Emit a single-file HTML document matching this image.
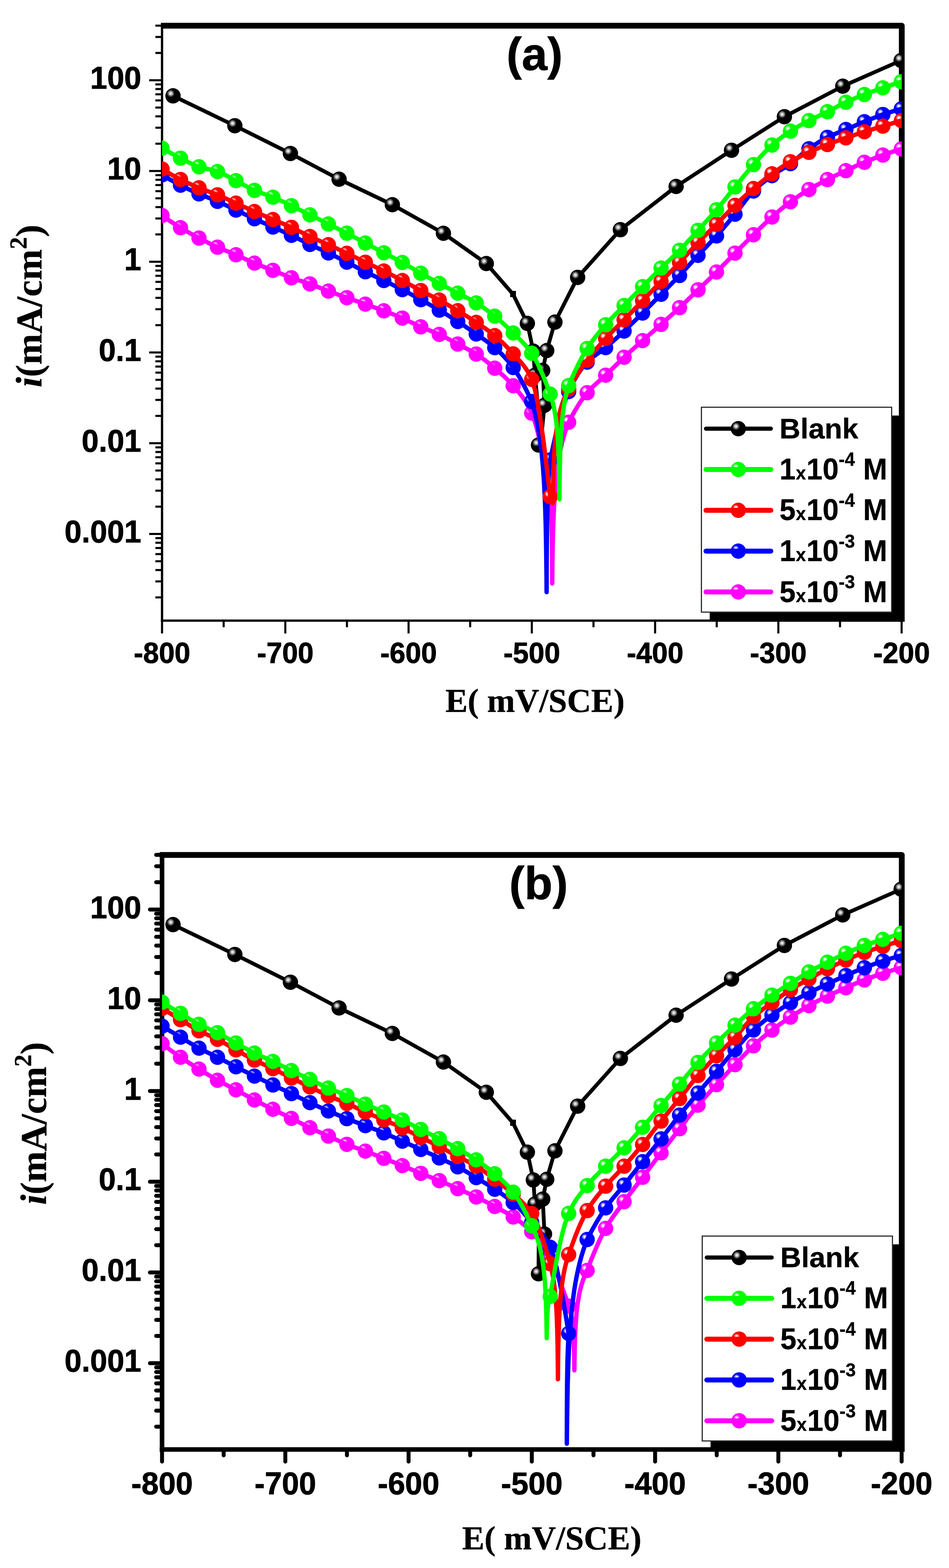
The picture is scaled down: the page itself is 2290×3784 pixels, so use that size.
<!DOCTYPE html>
<html lang="en"><head><meta charset="utf-8"><title>Polarization curves</title>
<style>
html,body{margin:0;padding:0;background:#fff}
body{width:2290px;height:3784px;overflow:hidden}
svg{display:block;filter:blur(0.5px)}
.sb{font-family:"Liberation Sans",sans-serif;font-weight:bold;fill:#000;stroke:#000;stroke-width:1.1px;stroke-linejoin:round}
.sl{stroke-width:0.5px}
.tb{font-family:"Liberation Serif",serif;font-weight:bold;fill:#000;stroke:#000;stroke-width:0.6px;stroke-linejoin:round}
</style></head><body>
<svg width="2290" height="3784" viewBox="0 0 2290 3784">
<defs><clipPath id="clip"><rect x="391" y="62" width="1785" height="1435.8"/></clipPath><radialGradient id="gk" gradientUnits="userSpaceOnUse" cx="-5.5" cy="-5.8" r="9.5"><stop offset="0" stop-color="#f4f4f4"/><stop offset="0.3" stop-color="#d4d4d4"/><stop offset="0.7" stop-color="#555"/><stop offset="1" stop-color="#000"/></radialGradient><g id="mk"><circle r="18.5" fill="#000"/><circle cx="-5.5" cy="-5.8" r="9.5" fill="url(#gk)"/></g><radialGradient id="gg" gradientUnits="userSpaceOnUse" cx="-6" cy="-6.5" r="7.5"><stop offset="0" stop-color="#fff"/><stop offset="0.35" stop-color="#fff" stop-opacity="0.85"/><stop offset="1" stop-color="#fff" stop-opacity="0"/></radialGradient><g id="mg"><circle r="18.5" fill="#00ff00"/><circle cx="-6" cy="-6.5" r="7.5" fill="url(#gg)"/></g><radialGradient id="gr" gradientUnits="userSpaceOnUse" cx="-6" cy="-6.5" r="7.5"><stop offset="0" stop-color="#fff"/><stop offset="0.35" stop-color="#fff" stop-opacity="0.85"/><stop offset="1" stop-color="#fff" stop-opacity="0"/></radialGradient><g id="mr"><circle r="18.5" fill="#ff0000"/><circle cx="-6" cy="-6.5" r="7.5" fill="url(#gr)"/></g><radialGradient id="gb" gradientUnits="userSpaceOnUse" cx="-6" cy="-6.5" r="7.5"><stop offset="0" stop-color="#fff"/><stop offset="0.35" stop-color="#fff" stop-opacity="0.85"/><stop offset="1" stop-color="#fff" stop-opacity="0"/></radialGradient><g id="mb"><circle r="18.5" fill="#0000ff"/><circle cx="-6" cy="-6.5" r="7.5" fill="url(#gb)"/></g><radialGradient id="gm" gradientUnits="userSpaceOnUse" cx="-6" cy="-6.5" r="7.5"><stop offset="0" stop-color="#fff"/><stop offset="0.35" stop-color="#fff" stop-opacity="0.85"/><stop offset="1" stop-color="#fff" stop-opacity="0"/></radialGradient><g id="mm"><circle r="18.5" fill="#ff00ff"/><circle cx="-6" cy="-6.5" r="7.5" fill="url(#gm)"/></g></defs>
<rect width="2290" height="3784" fill="#fff"/>
<g transform="translate(0 0)">
<g stroke="#000" fill="none" stroke-linecap="butt">
<line x1="375" y1="1441.7" x2="391" y2="1441.7" stroke-width="5"/>
<line x1="375" y1="1403.1" x2="391" y2="1403.1" stroke-width="5"/>
<line x1="375" y1="1375.7" x2="391" y2="1375.7" stroke-width="5"/>
<line x1="375" y1="1354.5" x2="391" y2="1354.5" stroke-width="5"/>
<line x1="375" y1="1337.2" x2="391" y2="1337.2" stroke-width="5"/>
<line x1="375" y1="1322.5" x2="391" y2="1322.5" stroke-width="5"/>
<line x1="375" y1="1309.8" x2="391" y2="1309.8" stroke-width="5"/>
<line x1="375" y1="1298.6" x2="391" y2="1298.6" stroke-width="5"/>
<line x1="360" y1="1288.6" x2="391" y2="1288.6" stroke-width="5"/>
<line x1="375" y1="1222.7" x2="391" y2="1222.7" stroke-width="5"/>
<line x1="375" y1="1184.1" x2="391" y2="1184.1" stroke-width="5"/>
<line x1="375" y1="1156.8" x2="391" y2="1156.8" stroke-width="5"/>
<line x1="375" y1="1135.5" x2="391" y2="1135.5" stroke-width="5"/>
<line x1="375" y1="1118.2" x2="391" y2="1118.2" stroke-width="5"/>
<line x1="375" y1="1103.5" x2="391" y2="1103.5" stroke-width="5"/>
<line x1="375" y1="1090.8" x2="391" y2="1090.8" stroke-width="5"/>
<line x1="375" y1="1079.6" x2="391" y2="1079.6" stroke-width="5"/>
<line x1="360" y1="1069.6" x2="391" y2="1069.6" stroke-width="5"/>
<line x1="375" y1="1003.7" x2="391" y2="1003.7" stroke-width="5"/>
<line x1="375" y1="965.1" x2="391" y2="965.1" stroke-width="5"/>
<line x1="375" y1="937.8" x2="391" y2="937.8" stroke-width="5"/>
<line x1="375" y1="916.6" x2="391" y2="916.6" stroke-width="5"/>
<line x1="375" y1="899.2" x2="391" y2="899.2" stroke-width="5"/>
<line x1="375" y1="884.6" x2="391" y2="884.6" stroke-width="5"/>
<line x1="375" y1="871.9" x2="391" y2="871.9" stroke-width="5"/>
<line x1="375" y1="860.7" x2="391" y2="860.7" stroke-width="5"/>
<line x1="360" y1="850.6" x2="391" y2="850.6" stroke-width="5"/>
<line x1="375" y1="784.7" x2="391" y2="784.7" stroke-width="5"/>
<line x1="375" y1="746.2" x2="391" y2="746.2" stroke-width="5"/>
<line x1="375" y1="718.8" x2="391" y2="718.8" stroke-width="5"/>
<line x1="375" y1="697.6" x2="391" y2="697.6" stroke-width="5"/>
<line x1="375" y1="680.2" x2="391" y2="680.2" stroke-width="5"/>
<line x1="375" y1="665.6" x2="391" y2="665.6" stroke-width="5"/>
<line x1="375" y1="652.9" x2="391" y2="652.9" stroke-width="5"/>
<line x1="375" y1="641.7" x2="391" y2="641.7" stroke-width="5"/>
<line x1="360" y1="631.7" x2="391" y2="631.7" stroke-width="5"/>
<line x1="375" y1="565.7" x2="391" y2="565.7" stroke-width="5"/>
<line x1="375" y1="527.2" x2="391" y2="527.2" stroke-width="5"/>
<line x1="375" y1="499.8" x2="391" y2="499.8" stroke-width="5"/>
<line x1="375" y1="478.6" x2="391" y2="478.6" stroke-width="5"/>
<line x1="375" y1="461.3" x2="391" y2="461.3" stroke-width="5"/>
<line x1="375" y1="446.6" x2="391" y2="446.6" stroke-width="5"/>
<line x1="375" y1="433.9" x2="391" y2="433.9" stroke-width="5"/>
<line x1="375" y1="422.7" x2="391" y2="422.7" stroke-width="5"/>
<line x1="360" y1="412.7" x2="391" y2="412.7" stroke-width="5"/>
<line x1="375" y1="346.8" x2="391" y2="346.8" stroke-width="5"/>
<line x1="375" y1="308.2" x2="391" y2="308.2" stroke-width="5"/>
<line x1="375" y1="280.8" x2="391" y2="280.8" stroke-width="5"/>
<line x1="375" y1="259.6" x2="391" y2="259.6" stroke-width="5"/>
<line x1="375" y1="242.3" x2="391" y2="242.3" stroke-width="5"/>
<line x1="375" y1="227.6" x2="391" y2="227.6" stroke-width="5"/>
<line x1="375" y1="214.9" x2="391" y2="214.9" stroke-width="5"/>
<line x1="375" y1="203.7" x2="391" y2="203.7" stroke-width="5"/>
<line x1="360" y1="193.7" x2="391" y2="193.7" stroke-width="5"/>
<line x1="375" y1="127.8" x2="391" y2="127.8" stroke-width="5"/>
<line x1="375" y1="89.2" x2="391" y2="89.2" stroke-width="5"/>
<line x1="375" y1="61.9" x2="391" y2="61.9" stroke-width="5"/>
<line x1="391" y1="1497.7" x2="391" y2="1528.7" stroke-width="5"/>
<line x1="539.7" y1="1497.7" x2="539.7" y2="1513.7" stroke-width="5"/>
<line x1="688.5" y1="1497.7" x2="688.5" y2="1528.7" stroke-width="5"/>
<line x1="837.2" y1="1497.7" x2="837.2" y2="1513.7" stroke-width="5"/>
<line x1="985.9" y1="1497.7" x2="985.9" y2="1528.7" stroke-width="5"/>
<line x1="1134.6" y1="1497.7" x2="1134.6" y2="1513.7" stroke-width="5"/>
<line x1="1283.3" y1="1497.7" x2="1283.3" y2="1528.7" stroke-width="5"/>
<line x1="1432.1" y1="1497.7" x2="1432.1" y2="1513.7" stroke-width="5"/>
<line x1="1580.8" y1="1497.7" x2="1580.8" y2="1528.7" stroke-width="5"/>
<line x1="1729.5" y1="1497.7" x2="1729.5" y2="1513.7" stroke-width="5"/>
<line x1="1878.2" y1="1497.7" x2="1878.2" y2="1528.7" stroke-width="5"/>
<line x1="2027" y1="1497.7" x2="2027" y2="1513.7" stroke-width="5"/>
<line x1="2175.7" y1="1497.7" x2="2175.7" y2="1528.7" stroke-width="5"/>
</g>
<g stroke="#000" fill="none" stroke-linecap="butt">
<line x1="391" y1="62" x2="391" y2="1500.5" stroke-width="5.5"/>
<line x1="388.2" y1="1497.7" x2="2176" y2="1497.7" stroke-width="5.5"/>
<path d="M388.2 62 H2176 V1500.5" stroke-width="14" stroke-linejoin="round"/>
</g>
<g transform="translate(0 0)"><g clip-path="url(#clip)" fill="none" stroke-linejoin="round" stroke-linecap="round">
<path d="M417.5 231.3 L566.7 303.4 L700.8 370.4 L818.2 432.5 L946.8 494 L1070 563 L1173.5 636 L1238 710 L1272.6 780.5 L1287 847.6 L1290.9 905.5 L1300 1000 L1299.4 1074 L1303 1085 L1314 978 L1309.6 893.8 L1319.3 846 L1339.1 777.3 L1393.9 669.4 L1497 554.3 L1631.5 450 L1765.2 362.7 L1892.8 281.7 L2033.6 208 L2174.5 146" stroke="#000" stroke-width="9.2"/>
<use href="#mk" x="417.5" y="231.3"/>
<use href="#mk" x="566.7" y="303.4"/>
<use href="#mk" x="700.8" y="370.4"/>
<use href="#mk" x="818.2" y="432.5"/>
<use href="#mk" x="946.8" y="494"/>
<use href="#mk" x="1070" y="563"/>
<use href="#mk" x="1173.5" y="636"/>
<rect x="1231" y="702" width="14" height="15" fill="#000" stroke="none"/>
<use href="#mk" x="1272.6" y="780.5"/>
<use href="#mk" x="1287" y="847.6"/>
<use href="#mk" x="1290.9" y="905.5"/>
<use href="#mk" x="1299.4" y="1074"/>
<use href="#mk" x="1314" y="978"/>
<use href="#mk" x="1309.6" y="893.8"/>
<use href="#mk" x="1319.3" y="846"/>
<use href="#mk" x="1339.1" y="777.3"/>
<use href="#mk" x="1393.9" y="669.4"/>
<use href="#mk" x="1497" y="554.3"/>
<use href="#mk" x="1631.5" y="450"/>
<use href="#mk" x="1765.2" y="362.7"/>
<use href="#mk" x="1892.8" y="281.7"/>
<use href="#mk" x="2033.6" y="208"/>
<use href="#mk" x="2174.5" y="146"/>
<use href="#mm" x="391" y="520"/>
<use href="#mm" x="435.6" y="549.5"/>
<use href="#mm" x="480.2" y="574.6"/>
<use href="#mm" x="524.8" y="596.6"/>
<use href="#mm" x="569.4" y="614.8"/>
<use href="#mm" x="614" y="635"/>
<use href="#mm" x="658.6" y="652.4"/>
<use href="#mm" x="703.2" y="670.4"/>
<use href="#mm" x="747.8" y="685.2"/>
<use href="#mm" x="792.4" y="702.5"/>
<use href="#mm" x="837" y="718.4"/>
<use href="#mm" x="881.6" y="734"/>
<use href="#mm" x="926.2" y="750.1"/>
<use href="#mm" x="970.8" y="767.7"/>
<use href="#mm" x="1015.4" y="788.8"/>
<use href="#mm" x="1060" y="807"/>
<use href="#mm" x="1104.6" y="830.3"/>
<use href="#mm" x="1149.2" y="854.4"/>
<use href="#mm" x="1193.8" y="888.6"/>
<use href="#mm" x="1238.4" y="931"/>
<use href="#mm" x="1283" y="997"/>
<use href="#mm" x="1327.6" y="1195"/>
<use href="#mm" x="1372.2" y="1019"/>
<use href="#mm" x="1416.8" y="947.8"/>
<use href="#mm" x="1461.4" y="905.5"/>
<use href="#mm" x="1506" y="862.2"/>
<use href="#mm" x="1550.6" y="822"/>
<use href="#mm" x="1595.2" y="782.8"/>
<use href="#mm" x="1639.8" y="742.4"/>
<use href="#mm" x="1684.4" y="699.4"/>
<use href="#mm" x="1729" y="656.5"/>
<use href="#mm" x="1773.6" y="610.9"/>
<use href="#mm" x="1818.2" y="566.6"/>
<use href="#mm" x="1862.8" y="523.7"/>
<use href="#mm" x="1907.4" y="487"/>
<use href="#mm" x="1952" y="457.4"/>
<use href="#mm" x="1996.6" y="433.3"/>
<use href="#mm" x="2041.2" y="411.8"/>
<use href="#mm" x="2085.8" y="391.7"/>
<use href="#mm" x="2130.4" y="374.3"/>
<use href="#mm" x="2175" y="359.5"/>
<path d="M391 520 L397 524.2 L403 528.4 L409 532.5 L415 536.5 L421 540.4 L427 544.2 L433 547.9 L439 551.6 L445 555.1 L451 558.6 L457 562 L463 565.4 L469 568.7 L475.1 571.9 L481.1 575.1 L487.1 578.2 L493.1 581.3 L499.1 584.3 L505.1 587.3 L511.1 590.2 L517.1 593.1 L523.1 595.8 L529.1 598.5 L535.1 601 L541.1 603.4 L547.1 605.8 L553.1 608.2 L559.1 610.5 L565.1 613 L571.1 615.5 L577.1 618.2 L583.1 621 L589.1 623.8 L595.1 626.6 L601.1 629.3 L607.1 632 L613.1 634.6 L619.1 637.1 L625.1 639.5 L631.2 641.9 L637.2 644.2 L643.2 646.4 L649.2 648.7 L655.2 651 L661.2 653.4 L667.2 655.9 L673.2 658.4 L679.2 660.9 L685.2 663.4 L691.2 665.8 L697.2 668.1 L703.2 670.4 L709.2 672.5 L715.2 674.5 L721.2 676.5 L727.2 678.4 L733.2 680.3 L739.2 682.3 L745.2 684.3 L751.2 686.4 L757.2 688.7 L763.2 691 L769.2 693.4 L775.2 695.8 L781.2 698.2 L787.3 700.6 L793.3 702.8 L799.3 705 L805.3 707.2 L811.3 709.3 L817.3 711.5 L823.3 713.6 L829.3 715.7 L835.3 717.8 L841.3 719.9 L847.3 722 L853.3 724.1 L859.3 726.2 L865.3 728.3 L871.3 730.4 L877.3 732.5 L883.3 734.6 L889.3 736.7 L895.3 738.9 L901.3 741 L907.3 743.2 L913.3 745.3 L919.3 747.5 L925.3 749.8 L931.3 752 L937.3 754.3 L943.4 756.6 L949.4 758.9 L955.4 761.3 L961.4 763.7 L967.4 766.2 L973.4 768.8 L979.4 771.6 L985.4 774.4 L991.4 777.4 L997.4 780.3 L1003.4 783.2 L1009.4 786.1 L1015.4 788.8 L1021.4 791.4 L1027.4 793.8 L1033.4 796.1 L1039.4 798.5 L1045.4 800.8 L1051.4 803.3 L1057.4 805.8 L1063.4 808.6 L1069.4 811.5 L1075.4 814.6 L1081.4 817.8 L1087.4 821 L1093.4 824.3 L1099.5 827.5 L1105.5 830.8 L1111.5 833.9 L1117.5 836.9 L1123.5 840 L1129.5 843.1 L1135.5 846.3 L1141.5 849.7 L1147.5 853.3 L1153.5 857.2 L1159.5 861.3 L1165.5 865.7 L1171.5 870.3 L1177.5 875.1 L1183.5 880 L1189.5 885 L1195.5 890.1 L1201.5 895.2 L1207.5 900.4 L1213.5 905.7 L1219.5 911.3 L1225.5 917.2 L1231.5 923.4 L1237.5 930 L1243.5 936.9 L1249.5 943.9 L1255.6 951.3 L1261.6 959.3 L1267.6 968.1 L1273.6 978.2 L1279.6 989.7 L1285.6 1003.1 L1291.6 1020.7 L1297.6 1042.3 L1303.6 1067.6 L1309.6 1095.9 L1315.6 1127 L1321.6 1160.1 L1327.6 1195 L1328 1199.5 L1328.4 1204.3 L1328.7 1209.2 L1329.1 1214.4 L1329.4 1219.8 L1329.7 1225.5 L1330 1231.5 L1330.3 1237.8 L1330.6 1244.5 L1330.8 1251.6 L1331.1 1259.2 L1331.3 1267.3 L1331.5 1276 L1331.6 1285.4 L1331.8 1295.5 L1332 1306.6 L1332.1 1318.6 L1332.2 1331.7 L1332.3 1345.9 L1332.4 1361.2 L1332.4 1377 L1332.5 1392.1 L1332.5 1403.6 L1332.5 1408 L1332.6 1399.9 L1332.8 1378.9 L1333.1 1351.5 L1333.6 1322.6 L1334.2 1294.6 L1335 1268.6 L1335.9 1244.7 L1336.9 1222.7 L1338.1 1202.6 L1339.4 1184.1 L1340.8 1166.9 L1342.4 1151.1 L1344.1 1136.3 L1346 1122.4 L1348 1109.4 L1350.1 1097.2 L1352.4 1085.6 L1354.8 1074.7 L1357.4 1064.3 L1360.1 1054.4 L1362.9 1044.9 L1365.9 1035.9 L1369 1027.3 L1372.2 1019 L1378.2 1007.6 L1384.3 996.7 L1390.3 986.2 L1396.3 976.4 L1402.4 967.1 L1408.4 958.5 L1414.5 950.7 L1420.5 943.6 L1426.5 937.2 L1432.6 931.3 L1438.6 925.8 L1444.6 920.5 L1450.7 915.3 L1456.7 909.9 L1462.7 904.2 L1468.8 898.4 L1474.8 892.5 L1480.8 886.5 L1486.9 880.6 L1492.9 874.7 L1499 868.9 L1505 863.1 L1511 857.5 L1517.1 852 L1523.1 846.5 L1529.1 841.1 L1535.2 835.7 L1541.2 830.3 L1547.2 825 L1553.3 819.6 L1559.3 814.3 L1565.4 809 L1571.4 803.7 L1577.4 798.5 L1583.5 793.2 L1589.5 787.9 L1595.5 782.5 L1601.6 777.1 L1607.6 771.7 L1613.6 766.3 L1619.7 760.9 L1625.7 755.4 L1631.8 749.9 L1637.8 744.3 L1643.8 738.6 L1649.9 732.9 L1655.9 727.1 L1661.9 721.2 L1668 715.3 L1674 709.5 L1680 703.6 L1686.1 697.8 L1692.1 692 L1698.1 686.3 L1704.2 680.5 L1710.2 674.7 L1716.3 668.9 L1722.3 663.1 L1728.3 657.2 L1734.4 651.1 L1740.4 645 L1746.4 638.8 L1752.5 632.6 L1758.5 626.3 L1764.5 620.1 L1770.6 614 L1776.6 607.9 L1782.7 601.8 L1788.7 595.8 L1794.7 589.7 L1800.8 583.8 L1806.8 577.8 L1812.8 571.9 L1818.9 565.9 L1824.9 560 L1830.9 554 L1837 548.1 L1843 542.2 L1849.1 536.4 L1855.1 530.7 L1861.1 525.2 L1867.2 519.9 L1873.2 514.6 L1879.2 509.4 L1885.3 504.4 L1891.3 499.4 L1897.3 494.6 L1903.4 490 L1909.4 485.5 L1915.4 481.2 L1921.5 477 L1927.5 472.9 L1933.6 468.9 L1939.6 465 L1945.6 461.3 L1951.7 457.6 L1957.7 454.1 L1963.7 450.6 L1969.8 447.3 L1975.8 444.1 L1981.8 440.9 L1987.9 437.8 L1993.9 434.7 L2000 431.6 L2006 428.6 L2012 425.6 L2018.1 422.7 L2024.1 419.8 L2030.1 417 L2036.2 414.1 L2042.2 411.3 L2048.2 408.5 L2054.3 405.7 L2060.3 402.9 L2066.4 400.2 L2072.4 397.5 L2078.4 394.8 L2084.5 392.3 L2090.5 389.7 L2096.5 387.3 L2102.6 384.9 L2108.6 382.5 L2114.6 380.1 L2120.7 377.9 L2126.7 375.6 L2132.7 373.5 L2138.8 371.3 L2144.8 369.2 L2150.9 367.2 L2156.9 365.2 L2162.9 363.3 L2169 361.4 L2175 359.5" stroke="#ff00ff" stroke-width="10.6"/>
<use href="#mb" x="391" y="422"/>
<use href="#mb" x="435.6" y="447"/>
<use href="#mb" x="480.2" y="468"/>
<use href="#mb" x="524.8" y="486"/>
<use href="#mb" x="569.4" y="507"/>
<use href="#mb" x="614" y="528"/>
<use href="#mb" x="658.6" y="548"/>
<use href="#mb" x="703.2" y="568"/>
<use href="#mb" x="747.8" y="590"/>
<use href="#mb" x="792.4" y="610.5"/>
<use href="#mb" x="837" y="632.7"/>
<use href="#mb" x="881.6" y="655.8"/>
<use href="#mb" x="926.2" y="677"/>
<use href="#mb" x="970.8" y="699"/>
<use href="#mb" x="1015.4" y="723.2"/>
<use href="#mb" x="1060" y="748.4"/>
<use href="#mb" x="1104.6" y="776"/>
<use href="#mb" x="1149.2" y="806"/>
<use href="#mb" x="1193.8" y="839"/>
<use href="#mb" x="1238.4" y="887"/>
<use href="#mb" x="1283" y="969"/>
<use href="#mb" x="1327.6" y="1110"/>
<use href="#mb" x="1372.2" y="945"/>
<use href="#mb" x="1416.8" y="874"/>
<use href="#mb" x="1461.4" y="839"/>
<use href="#mb" x="1506" y="798.9"/>
<use href="#mb" x="1550.6" y="755.5"/>
<use href="#mb" x="1595.2" y="710.2"/>
<use href="#mb" x="1639.8" y="664.8"/>
<use href="#mb" x="1684.4" y="616.2"/>
<use href="#mb" x="1729" y="569.3"/>
<use href="#mb" x="1773.6" y="517"/>
<use href="#mb" x="1818.2" y="461"/>
<use href="#mb" x="1862.8" y="424"/>
<use href="#mb" x="1907.4" y="395"/>
<use href="#mb" x="1952" y="359"/>
<use href="#mb" x="1996.6" y="331.4"/>
<use href="#mb" x="2041.2" y="312.6"/>
<use href="#mb" x="2085.8" y="293.8"/>
<use href="#mb" x="2130.4" y="276.4"/>
<use href="#mb" x="2175" y="262.9"/>
<path d="M391 422 L397 425.6 L403.1 429.2 L409.1 432.6 L415.1 436 L421.1 439.4 L427.2 442.6 L433.2 445.8 L439.2 448.8 L445.2 451.8 L451.3 454.8 L457.3 457.6 L463.3 460.5 L469.4 463.2 L475.4 465.9 L481.4 468.5 L487.4 471 L493.5 473.5 L499.5 475.8 L505.5 478.2 L511.5 480.5 L517.6 483 L523.6 485.5 L529.6 488.1 L535.6 490.9 L541.7 493.7 L547.7 496.6 L553.7 499.5 L559.8 502.4 L565.8 505.3 L571.8 508.1 L577.8 511 L583.9 513.8 L589.9 516.7 L595.9 519.6 L601.9 522.4 L608 525.2 L614 528 L620 530.8 L626.1 533.5 L632.1 536.2 L638.1 538.9 L644.1 541.5 L650.2 544.2 L656.2 546.9 L662.2 549.6 L668.2 552.3 L674.3 555 L680.3 557.6 L686.3 560.3 L692.4 563 L698.4 565.8 L704.4 568.6 L710.4 571.5 L716.5 574.4 L722.5 577.4 L728.5 580.5 L734.5 583.5 L740.6 586.5 L746.6 589.4 L752.6 592.3 L758.6 595.1 L764.7 597.8 L770.7 600.5 L776.7 603.2 L782.8 606 L788.8 608.8 L794.8 611.7 L800.8 614.6 L806.9 617.5 L812.9 620.5 L818.9 623.6 L824.9 626.6 L831 629.6 L837 632.7 L843 635.8 L849.1 638.9 L855.1 642.1 L861.1 645.3 L867.1 648.4 L873.2 651.5 L879.2 654.6 L885.2 657.6 L891.2 660.5 L897.3 663.4 L903.3 666.2 L909.3 669 L915.4 671.8 L921.4 674.7 L927.4 677.6 L933.4 680.5 L939.5 683.4 L945.5 686.3 L951.5 689.3 L957.5 692.3 L963.6 695.3 L969.6 698.4 L975.6 701.5 L981.6 704.7 L987.7 707.9 L993.7 711.2 L999.7 714.5 L1005.8 717.9 L1011.8 721.2 L1017.8 724.5 L1023.8 727.9 L1029.9 731.2 L1035.9 734.6 L1041.9 738 L1047.9 741.4 L1054 744.9 L1060 748.4 L1066 752 L1072.1 755.6 L1078.1 759.3 L1084.1 763 L1090.1 766.8 L1096.2 770.6 L1102.2 774.4 L1108.2 778.3 L1114.2 782.3 L1120.3 786.2 L1126.3 790.3 L1132.3 794.3 L1138.4 798.4 L1144.4 802.6 L1150.4 806.8 L1156.4 811 L1162.5 815.2 L1168.5 819.4 L1174.5 823.7 L1180.5 828.2 L1186.6 832.9 L1192.6 838 L1198.6 843.3 L1204.6 848.9 L1210.7 854.7 L1216.7 861 L1222.7 867.6 L1228.8 874.6 L1234.8 882.2 L1240.8 890.3 L1246.8 899.4 L1252.9 909.2 L1258.9 919.9 L1264.9 931.2 L1270.9 943.2 L1277 955.9 L1283 969 L1285.9 978.8 L1288.8 989 L1291.4 999.7 L1294 1010.8 L1296.4 1022.5 L1298.8 1034.8 L1300.9 1047.8 L1303 1061.5 L1304.9 1075.9 L1306.8 1091.3 L1308.4 1107.7 L1310 1125.2 L1311.4 1143.9 L1312.8 1164.2 L1313.9 1186.1 L1315 1209.9 L1315.9 1235.9 L1316.8 1264.2 L1317.4 1295 L1318 1328 L1318.4 1362.2 L1318.8 1394.6 L1318.9 1419.4 L1319 1429 L1319 1422.3 L1319.1 1405.1 L1319.1 1382.6 L1319.2 1358.9 L1319.4 1336 L1319.5 1314.7 L1319.7 1295.1 L1320 1277.1 L1320.2 1260.6 L1320.5 1245.4 L1320.8 1231.3 L1321.2 1218.3 L1321.5 1206.2 L1321.9 1194.8 L1322.4 1184.1 L1322.8 1174.1 L1323.3 1164.6 L1323.8 1155.7 L1324.4 1147.1 L1325 1139 L1325.6 1131.3 L1326.2 1123.9 L1326.9 1116.8 L1327.6 1110 L1333.6 1082 L1339.6 1055.3 L1345.6 1030.2 L1351.6 1006.9 L1357.6 985.7 L1363.7 967 L1369.7 950.9 L1375.7 937.5 L1381.7 925.3 L1387.7 914.2 L1393.7 904.2 L1399.7 895.1 L1405.7 886.9 L1411.7 879.6 L1417.7 873 L1423.8 867.3 L1429.8 862.2 L1435.8 857.7 L1441.8 853.4 L1447.8 849.3 L1453.8 845 L1459.8 840.3 L1465.8 835.3 L1471.8 830.1 L1477.8 824.7 L1483.9 819.3 L1489.9 813.9 L1495.9 808.3 L1501.9 802.7 L1507.9 797.1 L1513.9 791.4 L1519.9 785.7 L1525.9 779.8 L1531.9 774 L1537.9 768 L1544 762.1 L1550 756.1 L1556 750.1 L1562 744.1 L1568 738 L1574 731.8 L1580 725.7 L1586 719.6 L1592 713.4 L1598 707.3 L1604.1 701.2 L1610.1 695.2 L1616.1 689.1 L1622.1 683.1 L1628.1 676.9 L1634.1 670.7 L1640.1 664.5 L1646.1 658.1 L1652.1 651.5 L1658.1 645 L1664.2 638.3 L1670.2 631.7 L1676.2 625.1 L1682.2 618.6 L1688.2 612.2 L1694.2 605.9 L1700.2 599.7 L1706.2 593.5 L1712.2 587.2 L1718.2 580.9 L1724.3 574.5 L1730.3 567.9 L1736.3 561.1 L1742.3 554.3 L1748.3 547.3 L1754.3 540.2 L1760.3 533 L1766.3 525.8 L1772.3 518.5 L1778.3 511.1 L1784.4 503.3 L1790.4 495.2 L1796.4 487.2 L1802.4 479.3 L1808.4 471.9 L1814.4 465 L1820.4 458.8 L1826.4 453.1 L1832.4 447.8 L1838.4 442.7 L1844.5 437.8 L1850.5 433.2 L1856.5 428.6 L1862.5 424.2 L1868.5 420 L1874.5 416 L1880.5 412.3 L1886.5 408.6 L1892.5 404.9 L1898.5 401 L1904.6 397 L1910.6 392.7 L1916.6 387.9 L1922.6 383 L1928.6 377.8 L1934.6 372.7 L1940.6 367.7 L1946.6 362.9 L1952.6 358.6 L1958.6 354.4 L1964.7 350.3 L1970.7 346.4 L1976.7 342.6 L1982.7 339 L1988.7 335.6 L1994.7 332.4 L2000.7 329.4 L2006.7 326.6 L2012.7 324.1 L2018.7 321.6 L2024.8 319.2 L2030.8 316.9 L2036.8 314.4 L2042.8 311.9 L2048.8 309.4 L2054.8 306.8 L2060.8 304.3 L2066.8 301.7 L2072.8 299.2 L2078.8 296.7 L2084.9 294.2 L2090.9 291.7 L2096.9 289.3 L2102.9 286.8 L2108.9 284.4 L2114.9 282.1 L2120.9 279.8 L2126.9 277.6 L2132.9 275.5 L2138.9 273.5 L2145 271.6 L2151 269.7 L2157 267.9 L2163 266.2 L2169 264.5 L2175 262.9" stroke="#0000ff" stroke-width="10.6"/>
<use href="#mr" x="391" y="407.8"/>
<use href="#mr" x="435.6" y="433.2"/>
<use href="#mr" x="480.2" y="453.3"/>
<use href="#mr" x="524.8" y="470.2"/>
<use href="#mr" x="569.4" y="490.3"/>
<use href="#mr" x="614" y="510.5"/>
<use href="#mr" x="658.6" y="529.8"/>
<use href="#mr" x="703.2" y="548.7"/>
<use href="#mr" x="747.8" y="570.8"/>
<use href="#mr" x="792.4" y="590.6"/>
<use href="#mr" x="837" y="611.3"/>
<use href="#mr" x="881.6" y="632.9"/>
<use href="#mr" x="926.2" y="654"/>
<use href="#mr" x="970.8" y="677"/>
<use href="#mr" x="1015.4" y="701.2"/>
<use href="#mr" x="1060" y="724"/>
<use href="#mr" x="1104.6" y="749.8"/>
<use href="#mr" x="1149.2" y="778"/>
<use href="#mr" x="1193.8" y="810"/>
<use href="#mr" x="1238.4" y="854"/>
<use href="#mr" x="1283" y="915.5"/>
<use href="#mr" x="1327.6" y="1198.5"/>
<use href="#mr" x="1372.2" y="939"/>
<use href="#mr" x="1416.8" y="869.5"/>
<use href="#mr" x="1461.4" y="817"/>
<use href="#mr" x="1506" y="771.7"/>
<use href="#mr" x="1550.6" y="725.8"/>
<use href="#mr" x="1595.2" y="679.2"/>
<use href="#mr" x="1639.8" y="633.7"/>
<use href="#mr" x="1684.4" y="585.4"/>
<use href="#mr" x="1729" y="541.1"/>
<use href="#mr" x="1773.6" y="495.5"/>
<use href="#mr" x="1818.2" y="455"/>
<use href="#mr" x="1862.8" y="419.5"/>
<use href="#mr" x="1907.4" y="390.4"/>
<use href="#mr" x="1952" y="367.6"/>
<use href="#mr" x="1996.6" y="348.8"/>
<use href="#mr" x="2041.2" y="332.7"/>
<use href="#mr" x="2085.8" y="317.9"/>
<use href="#mr" x="2130.4" y="304.5"/>
<use href="#mr" x="2175" y="291"/>
<path d="M391 407.8 L397 411.5 L403 415.2 L409 418.7 L415 422.2 L421 425.5 L427 428.8 L433 431.9 L439 434.9 L445 437.8 L451 440.6 L457 443.4 L463 446 L469 448.6 L475.1 451.2 L481.1 453.7 L487.1 456 L493.1 458.3 L499.1 460.5 L505.1 462.7 L511.1 464.9 L517.1 467.1 L523.1 469.5 L529.1 472 L535.1 474.6 L541.1 477.3 L547.1 480 L553.1 482.8 L559.1 485.6 L565.1 488.3 L571.1 491.1 L577.1 493.8 L583.1 496.5 L589.1 499.3 L595.1 502 L601.1 504.7 L607.1 507.4 L613.1 510.1 L619.1 512.8 L625.1 515.4 L631.2 518 L637.2 520.6 L643.2 523.2 L649.2 525.8 L655.2 528.3 L661.2 530.9 L667.2 533.4 L673.2 535.9 L679.2 538.4 L685.2 540.9 L691.2 543.4 L697.2 546 L703.2 548.7 L709.2 551.5 L715.2 554.5 L721.2 557.5 L727.2 560.6 L733.2 563.6 L739.2 566.7 L745.2 569.6 L751.2 572.4 L757.2 575.1 L763.2 577.8 L769.2 580.4 L775.2 583 L781.2 585.6 L787.3 588.3 L793.3 591 L799.3 593.7 L805.3 596.5 L811.3 599.2 L817.3 602 L823.3 604.8 L829.3 607.7 L835.3 610.5 L841.3 613.3 L847.3 616.2 L853.3 619.1 L859.3 622.1 L865.3 625 L871.3 627.9 L877.3 630.8 L883.3 633.7 L889.3 636.6 L895.3 639.4 L901.3 642.2 L907.3 645 L913.3 647.8 L919.3 650.7 L925.3 653.6 L931.3 656.6 L937.3 659.6 L943.4 662.6 L949.4 665.7 L955.4 668.9 L961.4 672 L967.4 675.2 L973.4 678.4 L979.4 681.6 L985.4 684.9 L991.4 688.2 L997.4 691.5 L1003.4 694.8 L1009.4 698 L1015.4 701.2 L1021.4 704.3 L1027.4 707.4 L1033.4 710.4 L1039.4 713.4 L1045.4 716.4 L1051.4 719.5 L1057.4 722.6 L1063.4 725.9 L1069.4 729.2 L1075.4 732.6 L1081.4 736.1 L1087.4 739.6 L1093.4 743.1 L1099.5 746.7 L1105.5 750.3 L1111.5 754 L1117.5 757.6 L1123.5 761.4 L1129.5 765.1 L1135.5 769 L1141.5 772.9 L1147.5 776.9 L1153.5 780.9 L1159.5 784.9 L1165.5 789 L1171.5 793.1 L1177.5 797.4 L1183.5 801.8 L1189.5 806.5 L1195.5 811.4 L1201.5 816.6 L1207.5 822 L1213.5 827.7 L1219.5 833.6 L1225.5 839.8 L1231.5 846.3 L1237.5 853 L1243.5 859.7 L1249.5 866.1 L1255.6 872.6 L1261.6 879.6 L1267.6 887.6 L1273.6 896.9 L1279.6 908.1 L1285.6 922.2 L1291.6 943.8 L1297.6 973.1 L1303.6 1009.1 L1309.6 1050.6 L1315.6 1096.7 L1321.6 1146.4 L1327.6 1198.5 L1328.1 1198.8 L1328.6 1199.2 L1329.1 1199.5 L1329.6 1199.9 L1330 1200.3 L1330.4 1200.7 L1330.8 1201.2 L1331.2 1201.6 L1331.5 1202.1 L1331.8 1202.6 L1332.1 1203.2 L1332.4 1203.8 L1332.7 1204.4 L1332.9 1205.1 L1333.1 1205.8 L1333.3 1206.6 L1333.5 1207.5 L1333.6 1208.4 L1333.7 1209.5 L1333.8 1210.6 L1333.9 1211.7 L1334 1212.8 L1334 1213.7 L1334 1214 L1334.1 1208.3 L1334.3 1193.4 L1334.6 1174 L1335.1 1153.6 L1335.7 1133.9 L1336.4 1115.5 L1337.2 1098.5 L1338.2 1083 L1339.4 1068.8 L1340.6 1055.7 L1342 1043.6 L1343.5 1032.4 L1345.2 1021.9 L1347 1012.1 L1348.9 1002.9 L1351 994.3 L1353.2 986.1 L1355.5 978.4 L1357.9 971 L1360.5 964 L1363.2 957.3 L1366.1 951 L1369.1 944.9 L1372.2 939 L1378.2 928.6 L1384.3 918.4 L1390.3 908.6 L1396.3 899.1 L1402.4 889.9 L1408.4 881.1 L1414.5 872.7 L1420.5 864.6 L1426.5 856.9 L1432.6 849.6 L1438.6 842.4 L1444.6 835.5 L1450.7 828.8 L1456.7 822.1 L1462.7 815.5 L1468.8 809.1 L1474.8 802.9 L1480.8 796.8 L1486.9 790.8 L1492.9 784.8 L1499 778.8 L1505 772.7 L1511 766.6 L1517.1 760.4 L1523.1 754.2 L1529.1 748 L1535.2 741.8 L1541.2 735.5 L1547.2 729.3 L1553.3 723 L1559.3 716.7 L1565.4 710.4 L1571.4 704.1 L1577.4 697.7 L1583.5 691.4 L1589.5 685.1 L1595.5 678.9 L1601.6 672.7 L1607.6 666.5 L1613.6 660.4 L1619.7 654.4 L1625.7 648.2 L1631.8 642.1 L1637.8 635.8 L1643.8 629.4 L1649.9 622.9 L1655.9 616.3 L1661.9 609.7 L1668 603 L1674 596.4 L1680 590 L1686.1 583.7 L1692.1 577.5 L1698.1 571.5 L1704.2 565.6 L1710.2 559.6 L1716.3 553.7 L1722.3 547.8 L1728.3 541.8 L1734.4 535.6 L1740.4 529.4 L1746.4 523.1 L1752.5 516.8 L1758.5 510.6 L1764.5 504.4 L1770.6 498.4 L1776.6 492.6 L1782.7 486.9 L1788.7 481.2 L1794.7 475.7 L1800.8 470.2 L1806.8 464.9 L1812.8 459.6 L1818.9 454.4 L1824.9 449.3 L1830.9 444.3 L1837 439.4 L1843 434.5 L1849.1 429.8 L1855.1 425.2 L1861.1 420.7 L1867.2 416.4 L1873.2 412.2 L1879.2 408.1 L1885.3 404 L1891.3 400.1 L1897.3 396.4 L1903.4 392.7 L1909.4 389.3 L1915.4 385.9 L1921.5 382.6 L1927.5 379.5 L1933.6 376.4 L1939.6 373.5 L1945.6 370.6 L1951.7 367.8 L1957.7 365 L1963.7 362.3 L1969.8 359.7 L1975.8 357.2 L1981.8 354.7 L1987.9 352.2 L1993.9 349.8 L2000 347.5 L2006 345.2 L2012 343 L2018.1 340.8 L2024.1 338.7 L2030.1 336.5 L2036.2 334.4 L2042.2 332.4 L2048.2 330.3 L2054.3 328.2 L2060.3 326.2 L2066.4 324.2 L2072.4 322.2 L2078.4 320.2 L2084.5 318.3 L2090.5 316.4 L2096.5 314.6 L2102.6 312.8 L2108.6 311 L2114.6 309.2 L2120.7 307.4 L2126.7 305.6 L2132.7 303.8 L2138.8 302 L2144.8 300.1 L2150.9 298.3 L2156.9 296.5 L2162.9 294.7 L2169 292.8 L2175 291" stroke="#ff0000" stroke-width="10.6"/>
<use href="#mg" x="391" y="357.5"/>
<use href="#mg" x="435.6" y="381.7"/>
<use href="#mg" x="480.2" y="402.6"/>
<use href="#mg" x="524.8" y="414"/>
<use href="#mg" x="569.4" y="436"/>
<use href="#mg" x="614" y="459.4"/>
<use href="#mg" x="658.6" y="476"/>
<use href="#mg" x="703.2" y="496.4"/>
<use href="#mg" x="747.8" y="518.5"/>
<use href="#mg" x="792.4" y="540.6"/>
<use href="#mg" x="837" y="562.8"/>
<use href="#mg" x="881.6" y="586.5"/>
<use href="#mg" x="926.2" y="610"/>
<use href="#mg" x="970.8" y="633.5"/>
<use href="#mg" x="1015.4" y="659.3"/>
<use href="#mg" x="1060" y="684"/>
<use href="#mg" x="1104.6" y="707.5"/>
<use href="#mg" x="1149.2" y="731"/>
<use href="#mg" x="1193.8" y="763"/>
<use href="#mg" x="1238.4" y="803.5"/>
<use href="#mg" x="1283" y="852.6"/>
<use href="#mg" x="1327.6" y="951"/>
<use href="#mg" x="1372.2" y="930.6"/>
<use href="#mg" x="1416.8" y="841.1"/>
<use href="#mg" x="1461.4" y="783.8"/>
<use href="#mg" x="1506" y="737.3"/>
<use href="#mg" x="1550.6" y="691.8"/>
<use href="#mg" x="1595.2" y="647.1"/>
<use href="#mg" x="1639.8" y="604.2"/>
<use href="#mg" x="1684.4" y="555.9"/>
<use href="#mg" x="1729" y="506.2"/>
<use href="#mg" x="1773.6" y="451.2"/>
<use href="#mg" x="1818.2" y="397.3"/>
<use href="#mg" x="1862.8" y="350.1"/>
<use href="#mg" x="1907.4" y="316.6"/>
<use href="#mg" x="1952" y="291.1"/>
<use href="#mg" x="1996.6" y="269.6"/>
<use href="#mg" x="2041.2" y="246.8"/>
<use href="#mg" x="2085.8" y="228.1"/>
<use href="#mg" x="2130.4" y="212"/>
<use href="#mg" x="2175" y="197.2"/>
<path d="M391 357.5 L397 361 L403 364.3 L409 367.7 L415 371 L421 374.2 L427 377.3 L433 380.4 L439 383.4 L445 386.5 L451 389.6 L457 392.7 L463 395.6 L469 398.3 L475.1 400.8 L481.1 402.9 L487.1 404.7 L493.1 406.2 L499.1 407.5 L505.1 408.8 L511.1 410.2 L517.1 411.7 L523.1 413.4 L529.1 415.6 L535.1 418.1 L541.1 421 L547.1 424 L553.1 427.3 L559.1 430.5 L565.1 433.8 L571.1 436.9 L577.1 440.1 L583.1 443.4 L589.1 446.7 L595.1 450 L601.1 453.2 L607.1 456.2 L613.1 459 L619.1 461.6 L625.1 463.9 L631.2 466 L637.2 468.1 L643.2 470.2 L649.2 472.4 L655.2 474.6 L661.2 477.1 L667.2 479.6 L673.2 482.3 L679.2 485 L685.2 487.8 L691.2 490.7 L697.2 493.5 L703.2 496.4 L709.2 499.3 L715.2 502.2 L721.2 505.2 L727.2 508.2 L733.2 511.2 L739.2 514.2 L745.2 517.2 L751.2 520.2 L757.2 523.2 L763.2 526.1 L769.2 529.1 L775.2 532.1 L781.2 535.1 L787.3 538 L793.3 541 L799.3 544 L805.3 547 L811.3 549.9 L817.3 552.9 L823.3 555.9 L829.3 558.9 L835.3 561.9 L841.3 565 L847.3 568.2 L853.3 571.4 L859.3 574.6 L865.3 577.8 L871.3 581 L877.3 584.2 L883.3 587.4 L889.3 590.6 L895.3 593.7 L901.3 596.9 L907.3 600.1 L913.3 603.2 L919.3 606.4 L925.3 609.5 L931.3 612.7 L937.3 615.8 L943.4 618.9 L949.4 622.1 L955.4 625.2 L961.4 628.4 L967.4 631.6 L973.4 634.9 L979.4 638.3 L985.4 641.8 L991.4 645.3 L997.4 648.8 L1003.4 652.4 L1009.4 655.9 L1015.4 659.3 L1021.4 662.7 L1027.4 666.1 L1033.4 669.4 L1039.4 672.7 L1045.4 676.1 L1051.4 679.3 L1057.4 682.6 L1063.4 685.8 L1069.4 689 L1075.4 692.2 L1081.4 695.4 L1087.4 698.5 L1093.4 701.7 L1099.5 704.8 L1105.5 708 L1111.5 711 L1117.5 714.1 L1123.5 717.1 L1129.5 720.1 L1135.5 723.2 L1141.5 726.5 L1147.5 730 L1153.5 733.7 L1159.5 737.6 L1165.5 741.7 L1171.5 745.9 L1177.5 750.3 L1183.5 754.9 L1189.5 759.6 L1195.5 764.4 L1201.5 769.4 L1207.5 774.5 L1213.5 779.8 L1219.5 785.3 L1225.5 791 L1231.5 796.7 L1237.5 802.6 L1243.5 808.5 L1249.5 814.3 L1255.6 820.2 L1261.6 826.3 L1267.6 832.8 L1273.6 839.9 L1279.6 847.7 L1285.6 856.5 L1291.6 866.7 L1297.6 878.1 L1303.6 890.8 L1309.6 904.5 L1315.6 919.2 L1321.6 934.8 L1327.6 951 L1329.4 956.4 L1331.2 962.1 L1332.8 967.9 L1334.4 974.1 L1336 980.6 L1337.4 987.4 L1338.8 994.5 L1340 1002 L1341.2 1010 L1342.4 1018.5 L1343.4 1027.6 L1344.4 1037.2 L1345.3 1047.6 L1346.1 1058.8 L1346.8 1070.9 L1347.5 1084 L1348.1 1098.4 L1348.6 1114 L1349 1131 L1349.4 1149.2 L1349.7 1168.1 L1349.8 1186 L1350 1199.7 L1350 1205 L1350 1199.3 L1350.2 1184.5 L1350.3 1165.1 L1350.6 1144.7 L1351 1125 L1351.4 1106.7 L1351.9 1089.8 L1352.5 1074.3 L1353.1 1060.1 L1353.9 1047 L1354.7 1035 L1355.5 1023.8 L1356.5 1013.3 L1357.6 1003.5 L1358.7 994.4 L1359.9 985.7 L1361.1 977.6 L1362.5 969.9 L1363.9 962.5 L1365.4 955.6 L1367 948.9 L1368.7 942.5 L1370.4 936.4 L1372.2 930.6 L1378.2 916.5 L1384.3 903 L1390.3 890 L1396.3 877.7 L1402.4 866 L1408.4 855 L1414.5 844.8 L1420.5 835.4 L1426.5 826.7 L1432.6 818.5 L1438.6 810.8 L1444.6 803.4 L1450.7 796.2 L1456.7 789.2 L1462.7 782.3 L1468.8 775.5 L1474.8 769.1 L1480.8 762.8 L1486.9 756.7 L1492.9 750.6 L1499 744.5 L1505 738.3 L1511 732.1 L1517.1 725.9 L1523.1 719.7 L1529.1 713.6 L1535.2 707.4 L1541.2 701.3 L1547.2 695.2 L1553.3 689.1 L1559.3 683 L1565.4 676.9 L1571.4 670.8 L1577.4 664.7 L1583.5 658.7 L1589.5 652.7 L1595.5 646.8 L1601.6 640.9 L1607.6 635.2 L1613.6 629.5 L1619.7 623.8 L1625.7 618.1 L1631.8 612.2 L1637.8 606.2 L1643.8 600.1 L1649.9 593.7 L1655.9 587.2 L1661.9 580.7 L1668 574 L1674 567.4 L1680 560.7 L1686.1 554.1 L1692.1 547.5 L1698.1 540.8 L1704.2 534.2 L1710.2 527.6 L1716.3 520.8 L1722.3 514 L1728.3 507 L1734.4 499.8 L1740.4 492.5 L1746.4 485 L1752.5 477.5 L1758.5 469.9 L1764.5 462.4 L1770.6 454.9 L1776.6 447.5 L1782.7 440.1 L1788.7 432.6 L1794.7 425.2 L1800.8 417.8 L1806.8 410.5 L1812.8 403.4 L1818.9 396.5 L1824.9 389.7 L1830.9 382.9 L1837 376.2 L1843 369.6 L1849.1 363.3 L1855.1 357.2 L1861.1 351.6 L1867.2 346.3 L1873.2 341.3 L1879.2 336.5 L1885.3 331.9 L1891.3 327.5 L1897.3 323.3 L1903.4 319.2 L1909.4 315.3 L1915.4 311.5 L1921.5 307.9 L1927.5 304.4 L1933.6 301 L1939.6 297.7 L1945.6 294.5 L1951.7 291.3 L1957.7 288.2 L1963.7 285.2 L1969.8 282.3 L1975.8 279.5 L1981.8 276.7 L1987.9 273.8 L1993.9 270.9 L2000 267.9 L2006 264.8 L2012 261.6 L2018.1 258.4 L2024.1 255.3 L2030.1 252.2 L2036.2 249.2 L2042.2 246.3 L2048.2 243.6 L2054.3 241 L2060.3 238.4 L2066.4 235.9 L2072.4 233.4 L2078.4 231 L2084.5 228.6 L2090.5 226.3 L2096.5 224 L2102.6 221.8 L2108.6 219.6 L2114.6 217.5 L2120.7 215.4 L2126.7 213.3 L2132.7 211.2 L2138.8 209.1 L2144.8 207.1 L2150.9 205.1 L2156.9 203.1 L2162.9 201.1 L2169 199.1 L2175 197.2" stroke="#00ff00" stroke-width="10.6"/>
</g></g>
<rect x="1712.6" y="1002.8" width="459" height="494.4" fill="#000"/>
<rect x="1692.6" y="982.8" width="459" height="494.4" fill="#fff" stroke="#2a2a2a" stroke-width="2.8"/>
<line x1="1703.6" y1="1034.5" x2="1860.1" y2="1034.5" stroke="#000000" stroke-width="10" stroke-linecap="round"/><use href="#mk" x="1781.6" y="1034.5"/>
<text class="sb sl" transform="translate(1881.1 1058) scale(1 0.98)" font-size="69.8">Blank</text>
<use href="#mg" x="1781.6" y="1133"/><line x1="1703.6" y1="1133" x2="1860.1" y2="1133" stroke="#00ff00" stroke-width="12" stroke-linecap="round"/>
<text class="sb sl" transform="translate(1881.1 1156.7) scale(1 1.03)" font-size="69.8">1<tspan font-size="43.5" dx="0.5">x</tspan><tspan dx="1.5">10</tspan><tspan font-size="44" dy="-31.5">-4</tspan><tspan dy="31.5" dx="0.5"> M</tspan></text>
<use href="#mr" x="1781.6" y="1231.5"/><line x1="1703.6" y1="1231.5" x2="1860.1" y2="1231.5" stroke="#ff0000" stroke-width="12" stroke-linecap="round"/>
<text class="sb sl" transform="translate(1881.1 1255.4) scale(1 1.03)" font-size="69.8">5<tspan font-size="43.5" dx="0.5">x</tspan><tspan dx="1.5">10</tspan><tspan font-size="44" dy="-31.5">-4</tspan><tspan dy="31.5" dx="0.5"> M</tspan></text>
<use href="#mb" x="1781.6" y="1330"/><line x1="1703.6" y1="1330" x2="1860.1" y2="1330" stroke="#0000ff" stroke-width="12" stroke-linecap="round"/>
<text class="sb sl" transform="translate(1881.1 1354.1) scale(1 1.03)" font-size="69.8">1<tspan font-size="43.5" dx="0.5">x</tspan><tspan dx="1.5">10</tspan><tspan font-size="44" dy="-31.5">-3</tspan><tspan dy="31.5" dx="0.5"> M</tspan></text>
<use href="#mm" x="1781.6" y="1428.5"/><line x1="1703.6" y1="1428.5" x2="1860.1" y2="1428.5" stroke="#ff00ff" stroke-width="12" stroke-linecap="round"/>
<text class="sb sl" transform="translate(1881.1 1452.8) scale(1 1.03)" font-size="69.8">5<tspan font-size="43.5" dx="0.5">x</tspan><tspan dx="1.5">10</tspan><tspan font-size="44" dy="-31.5">-3</tspan><tspan dy="31.5" dx="0.5"> M</tspan></text>
<text class="sb" transform="translate(341 214.3) scale(1 1.02)" font-size="74" text-anchor="end">100</text>
<text class="sb" transform="translate(341 433.3) scale(1 1.02)" font-size="74" text-anchor="end">10</text>
<text class="sb" transform="translate(341 652.3) scale(1 1.02)" font-size="74" text-anchor="end">1</text>
<text class="sb" transform="translate(341 871.2) scale(1 1.02)" font-size="74" text-anchor="end">0.1</text>
<text class="sb" transform="translate(341 1090.2) scale(1 1.02)" font-size="74" text-anchor="end">0.01</text>
<text class="sb" transform="translate(341 1309.2) scale(1 1.02)" font-size="74" text-anchor="end">0.001</text>
<text class="sb" transform="translate(391 1599.5) scale(1 1.02)" font-size="68.3" text-anchor="middle">-800</text>
<text class="sb" transform="translate(688.5 1599.5) scale(1 1.02)" font-size="68.3" text-anchor="middle">-700</text>
<text class="sb" transform="translate(985.9 1599.5) scale(1 1.02)" font-size="68.3" text-anchor="middle">-600</text>
<text class="sb" transform="translate(1283.3 1599.5) scale(1 1.02)" font-size="68.3" text-anchor="middle">-500</text>
<text class="sb" transform="translate(1580.8 1599.5) scale(1 1.02)" font-size="68.3" text-anchor="middle">-400</text>
<text class="sb" transform="translate(1878.2 1599.5) scale(1 1.02)" font-size="68.3" text-anchor="middle">-300</text>
<text class="sb" transform="translate(2175.7 1599.5) scale(1 1.02)" font-size="68.3" text-anchor="middle">-200</text>
<text class="tb" x="1291" y="1718" font-size="80.7" text-anchor="middle">E( mV/SCE)</text>
<text class="tb" transform="translate(100 738.5) rotate(-90)" font-size="89.6" text-anchor="middle"><tspan font-style="italic">i</tspan>(mA/cm<tspan font-size="59" dy="-36">2</tspan><tspan dy="36">)</tspan></text>
<text class="sb" x="1290" y="168.7" font-size="111" text-anchor="middle" style="stroke-width:1px">(a)</text>
</g>
<g transform="translate(0 2001.2)">
<g stroke="#000" fill="none" stroke-linecap="round">
<line x1="376.8" y1="1441.7" x2="391" y2="1441.7" stroke-width="9.5"/>
<line x1="376.8" y1="1403.1" x2="391" y2="1403.1" stroke-width="9.5"/>
<line x1="376.8" y1="1375.7" x2="391" y2="1375.7" stroke-width="9.5"/>
<line x1="376.8" y1="1354.5" x2="391" y2="1354.5" stroke-width="9.5"/>
<line x1="376.8" y1="1337.2" x2="391" y2="1337.2" stroke-width="9.5"/>
<line x1="376.8" y1="1322.5" x2="391" y2="1322.5" stroke-width="9.5"/>
<line x1="376.8" y1="1309.8" x2="391" y2="1309.8" stroke-width="9.5"/>
<line x1="376.8" y1="1298.6" x2="391" y2="1298.6" stroke-width="9.5"/>
<line x1="361.8" y1="1288.6" x2="391" y2="1288.6" stroke-width="9.5"/>
<line x1="376.8" y1="1222.7" x2="391" y2="1222.7" stroke-width="9.5"/>
<line x1="376.8" y1="1184.1" x2="391" y2="1184.1" stroke-width="9.5"/>
<line x1="376.8" y1="1156.8" x2="391" y2="1156.8" stroke-width="9.5"/>
<line x1="376.8" y1="1135.5" x2="391" y2="1135.5" stroke-width="9.5"/>
<line x1="376.8" y1="1118.2" x2="391" y2="1118.2" stroke-width="9.5"/>
<line x1="376.8" y1="1103.5" x2="391" y2="1103.5" stroke-width="9.5"/>
<line x1="376.8" y1="1090.8" x2="391" y2="1090.8" stroke-width="9.5"/>
<line x1="376.8" y1="1079.6" x2="391" y2="1079.6" stroke-width="9.5"/>
<line x1="361.8" y1="1069.6" x2="391" y2="1069.6" stroke-width="9.5"/>
<line x1="376.8" y1="1003.7" x2="391" y2="1003.7" stroke-width="9.5"/>
<line x1="376.8" y1="965.1" x2="391" y2="965.1" stroke-width="9.5"/>
<line x1="376.8" y1="937.8" x2="391" y2="937.8" stroke-width="9.5"/>
<line x1="376.8" y1="916.6" x2="391" y2="916.6" stroke-width="9.5"/>
<line x1="376.8" y1="899.2" x2="391" y2="899.2" stroke-width="9.5"/>
<line x1="376.8" y1="884.6" x2="391" y2="884.6" stroke-width="9.5"/>
<line x1="376.8" y1="871.9" x2="391" y2="871.9" stroke-width="9.5"/>
<line x1="376.8" y1="860.7" x2="391" y2="860.7" stroke-width="9.5"/>
<line x1="361.8" y1="850.6" x2="391" y2="850.6" stroke-width="9.5"/>
<line x1="376.8" y1="784.7" x2="391" y2="784.7" stroke-width="9.5"/>
<line x1="376.8" y1="746.2" x2="391" y2="746.2" stroke-width="9.5"/>
<line x1="376.8" y1="718.8" x2="391" y2="718.8" stroke-width="9.5"/>
<line x1="376.8" y1="697.6" x2="391" y2="697.6" stroke-width="9.5"/>
<line x1="376.8" y1="680.2" x2="391" y2="680.2" stroke-width="9.5"/>
<line x1="376.8" y1="665.6" x2="391" y2="665.6" stroke-width="9.5"/>
<line x1="376.8" y1="652.9" x2="391" y2="652.9" stroke-width="9.5"/>
<line x1="376.8" y1="641.7" x2="391" y2="641.7" stroke-width="9.5"/>
<line x1="361.8" y1="631.7" x2="391" y2="631.7" stroke-width="9.5"/>
<line x1="376.8" y1="565.7" x2="391" y2="565.7" stroke-width="9.5"/>
<line x1="376.8" y1="527.2" x2="391" y2="527.2" stroke-width="9.5"/>
<line x1="376.8" y1="499.8" x2="391" y2="499.8" stroke-width="9.5"/>
<line x1="376.8" y1="478.6" x2="391" y2="478.6" stroke-width="9.5"/>
<line x1="376.8" y1="461.3" x2="391" y2="461.3" stroke-width="9.5"/>
<line x1="376.8" y1="446.6" x2="391" y2="446.6" stroke-width="9.5"/>
<line x1="376.8" y1="433.9" x2="391" y2="433.9" stroke-width="9.5"/>
<line x1="376.8" y1="422.7" x2="391" y2="422.7" stroke-width="9.5"/>
<line x1="361.8" y1="412.7" x2="391" y2="412.7" stroke-width="9.5"/>
<line x1="376.8" y1="346.8" x2="391" y2="346.8" stroke-width="9.5"/>
<line x1="376.8" y1="308.2" x2="391" y2="308.2" stroke-width="9.5"/>
<line x1="376.8" y1="280.8" x2="391" y2="280.8" stroke-width="9.5"/>
<line x1="376.8" y1="259.6" x2="391" y2="259.6" stroke-width="9.5"/>
<line x1="376.8" y1="242.3" x2="391" y2="242.3" stroke-width="9.5"/>
<line x1="376.8" y1="227.6" x2="391" y2="227.6" stroke-width="9.5"/>
<line x1="376.8" y1="214.9" x2="391" y2="214.9" stroke-width="9.5"/>
<line x1="376.8" y1="203.7" x2="391" y2="203.7" stroke-width="9.5"/>
<line x1="361.8" y1="193.7" x2="391" y2="193.7" stroke-width="9.5"/>
<line x1="376.8" y1="127.8" x2="391" y2="127.8" stroke-width="9.5"/>
<line x1="376.8" y1="89.2" x2="391" y2="89.2" stroke-width="9.5"/>
<line x1="376.8" y1="61.9" x2="391" y2="61.9" stroke-width="9.5"/>
<line x1="391" y1="1496.8" x2="391" y2="1526" stroke-width="9.5"/>
<line x1="539.7" y1="1496.8" x2="539.7" y2="1511" stroke-width="9.5"/>
<line x1="688.5" y1="1496.8" x2="688.5" y2="1526" stroke-width="9.5"/>
<line x1="837.2" y1="1496.8" x2="837.2" y2="1511" stroke-width="9.5"/>
<line x1="985.9" y1="1496.8" x2="985.9" y2="1526" stroke-width="9.5"/>
<line x1="1134.6" y1="1496.8" x2="1134.6" y2="1511" stroke-width="9.5"/>
<line x1="1283.3" y1="1496.8" x2="1283.3" y2="1526" stroke-width="9.5"/>
<line x1="1432.1" y1="1496.8" x2="1432.1" y2="1511" stroke-width="9.5"/>
<line x1="1580.8" y1="1496.8" x2="1580.8" y2="1526" stroke-width="9.5"/>
<line x1="1729.5" y1="1496.8" x2="1729.5" y2="1511" stroke-width="9.5"/>
<line x1="1878.2" y1="1496.8" x2="1878.2" y2="1526" stroke-width="9.5"/>
<line x1="2027" y1="1496.8" x2="2027" y2="1511" stroke-width="9.5"/>
<line x1="2175.7" y1="1496.8" x2="2175.7" y2="1526" stroke-width="9.5"/>
</g>
<g stroke="#000" fill="none" stroke-linecap="butt">
<line x1="391" y1="62" x2="391" y2="1502.3" stroke-width="11"/>
<line x1="385.5" y1="1496.8" x2="2176" y2="1496.8" stroke-width="11"/>
<path d="M385.5 62 H2176 V1502.3" stroke-width="14" stroke-linejoin="round"/>
</g>
<g transform="translate(0 -1.2)"><g clip-path="url(#clip)" fill="none" stroke-linejoin="round" stroke-linecap="round">
<path d="M417.5 231.3 L566.7 303.4 L700.8 370.4 L818.2 432.5 L946.8 494 L1070 563 L1173.5 636 L1238 710 L1272.6 780.5 L1287 847.6 L1290.9 905.5 L1300 1000 L1299.4 1074 L1303 1085 L1314 978 L1309.6 893.8 L1319.3 846 L1339.1 777.3 L1393.9 669.4 L1497 554.3 L1631.5 450 L1765.2 362.7 L1892.8 281.7 L2033.6 208 L2174.5 146" stroke="#000" stroke-width="9.2"/>
<use href="#mk" x="417.5" y="231.3"/>
<use href="#mk" x="566.7" y="303.4"/>
<use href="#mk" x="700.8" y="370.4"/>
<use href="#mk" x="818.2" y="432.5"/>
<use href="#mk" x="946.8" y="494"/>
<use href="#mk" x="1070" y="563"/>
<use href="#mk" x="1173.5" y="636"/>
<rect x="1231" y="702" width="14" height="15" fill="#000" stroke="none"/>
<use href="#mk" x="1272.6" y="780.5"/>
<use href="#mk" x="1287" y="847.6"/>
<use href="#mk" x="1290.9" y="905.5"/>
<use href="#mk" x="1299.4" y="1074"/>
<use href="#mk" x="1314" y="978"/>
<use href="#mk" x="1309.6" y="893.8"/>
<use href="#mk" x="1319.3" y="846"/>
<use href="#mk" x="1339.1" y="777.3"/>
<use href="#mk" x="1393.9" y="669.4"/>
<use href="#mk" x="1497" y="554.3"/>
<use href="#mk" x="1631.5" y="450"/>
<use href="#mk" x="1765.2" y="362.7"/>
<use href="#mk" x="1892.8" y="281.7"/>
<use href="#mk" x="2033.6" y="208"/>
<use href="#mk" x="2174.5" y="146"/>
<use href="#mm" x="391" y="518.5"/>
<use href="#mm" x="435.6" y="551.5"/>
<use href="#mm" x="480.2" y="580"/>
<use href="#mm" x="524.8" y="607"/>
<use href="#mm" x="569.4" y="630"/>
<use href="#mm" x="614" y="654.5"/>
<use href="#mm" x="658.6" y="677"/>
<use href="#mm" x="703.2" y="699"/>
<use href="#mm" x="747.8" y="721.5"/>
<use href="#mm" x="792.4" y="741.7"/>
<use href="#mm" x="837" y="761.7"/>
<use href="#mm" x="881.6" y="778"/>
<use href="#mm" x="926.2" y="795.4"/>
<use href="#mm" x="970.8" y="813"/>
<use href="#mm" x="1015.4" y="831.7"/>
<use href="#mm" x="1060" y="849.2"/>
<use href="#mm" x="1104.6" y="868.6"/>
<use href="#mm" x="1149.2" y="888.7"/>
<use href="#mm" x="1193.8" y="911.5"/>
<use href="#mm" x="1238.4" y="937"/>
<use href="#mm" x="1283" y="972.5"/>
<use href="#mm" x="1327.6" y="1040"/>
<use href="#mm" x="1372.2" y="1152"/>
<use href="#mm" x="1416.8" y="1066"/>
<use href="#mm" x="1461.4" y="964.5"/>
<use href="#mm" x="1506" y="900.1"/>
<use href="#mm" x="1550.6" y="841.1"/>
<use href="#mm" x="1595.2" y="782.1"/>
<use href="#mm" x="1639.8" y="724"/>
<use href="#mm" x="1684.4" y="667"/>
<use href="#mm" x="1729" y="617.6"/>
<use href="#mm" x="1773.6" y="569.3"/>
<use href="#mm" x="1818.2" y="523.8"/>
<use href="#mm" x="1862.8" y="485.8"/>
<use href="#mm" x="1907.4" y="454.7"/>
<use href="#mm" x="1952" y="426.9"/>
<use href="#mm" x="1996.6" y="404"/>
<use href="#mm" x="2041.2" y="383.7"/>
<use href="#mm" x="2085.8" y="364.9"/>
<use href="#mm" x="2130.4" y="348.8"/>
<use href="#mm" x="2175" y="335.4"/>
<path d="M391 518.5 L397 523.2 L403 527.9 L409.1 532.4 L415.1 536.9 L421.1 541.3 L427.1 545.6 L433.1 549.8 L439.2 553.9 L445.2 557.9 L451.2 561.8 L457.2 565.7 L463.2 569.5 L469.3 573.2 L475.3 576.9 L481.3 580.7 L487.3 584.4 L493.3 588.2 L499.4 591.9 L505.4 595.6 L511.4 599.2 L517.4 602.8 L523.4 606.2 L529.5 609.5 L535.5 612.7 L541.5 615.8 L547.5 618.8 L553.5 621.9 L559.5 624.9 L565.6 628 L571.6 631.2 L577.6 634.4 L583.6 637.8 L589.6 641.1 L595.7 644.5 L601.7 647.8 L607.7 651.1 L613.7 654.4 L619.7 657.5 L625.8 660.6 L631.8 663.6 L637.8 666.7 L643.8 669.7 L649.8 672.6 L655.9 675.6 L661.9 678.6 L667.9 681.6 L673.9 684.6 L679.9 687.5 L686 690.5 L692 693.4 L698 696.4 L704 699.4 L710 702.4 L716.1 705.5 L722.1 708.6 L728.1 711.7 L734.1 714.8 L740.1 717.8 L746.2 720.7 L752.2 723.6 L758.2 726.4 L764.2 729.1 L770.2 731.8 L776.3 734.5 L782.3 737.2 L788.3 739.9 L794.3 742.6 L800.3 745.3 L806.4 748.1 L812.4 750.9 L818.4 753.7 L824.4 756.4 L830.4 759 L836.5 761.5 L842.5 763.8 L848.5 766.1 L854.5 768.3 L860.5 770.4 L866.6 772.5 L872.6 774.7 L878.6 776.9 L884.6 779.1 L890.6 781.4 L896.6 783.8 L902.7 786.1 L908.7 788.5 L914.7 790.9 L920.7 793.2 L926.7 795.6 L932.8 798 L938.8 800.3 L944.8 802.7 L950.8 805 L956.8 807.4 L962.9 809.8 L968.9 812.2 L974.9 814.7 L980.9 817.2 L986.9 819.7 L993 822.3 L999 824.9 L1005 827.4 L1011 829.9 L1017 832.4 L1023.1 834.8 L1029.1 837.1 L1035.1 839.4 L1041.1 841.7 L1047.1 844.1 L1053.2 846.4 L1059.2 848.9 L1065.2 851.4 L1071.2 853.9 L1077.2 856.5 L1083.3 859.2 L1089.3 861.8 L1095.3 864.5 L1101.3 867.1 L1107.3 869.8 L1113.4 872.5 L1119.4 875.1 L1125.4 877.8 L1131.4 880.5 L1137.4 883.2 L1143.5 886 L1149.5 888.8 L1155.5 891.7 L1161.5 894.7 L1167.5 897.7 L1173.6 900.8 L1179.6 903.9 L1185.6 907.1 L1191.6 910.3 L1197.6 913.6 L1203.7 916.8 L1209.7 920 L1215.7 923.3 L1221.7 926.7 L1227.7 930.3 L1233.7 934 L1239.8 937.9 L1245.8 942 L1251.8 946.1 L1257.8 950.5 L1263.8 955.1 L1269.9 960.1 L1275.9 965.5 L1281.9 971.4 L1287.9 977.9 L1293.9 985.4 L1300 993.6 L1306 1002.6 L1312 1012.3 L1318 1022.5 L1324 1033.4 L1330.1 1044.8 L1336.1 1057.2 L1342.1 1070.7 L1348.1 1085.3 L1354.1 1100.8 L1360.2 1117.1 L1366.2 1134.2 L1372.2 1152 L1373.3 1155.3 L1374.4 1158.7 L1375.4 1162.3 L1376.4 1166.1 L1377.4 1170 L1378.2 1174.2 L1379.1 1178.5 L1379.9 1183.2 L1380.6 1188 L1381.3 1193.2 L1382 1198.7 L1382.5 1204.6 L1383.1 1210.9 L1383.6 1217.8 L1384.1 1225.2 L1384.5 1233.2 L1384.8 1241.9 L1385.1 1251.5 L1385.4 1261.8 L1385.6 1273 L1385.8 1284.5 L1385.9 1295.4 L1386 1303.8 L1386 1307 L1386.1 1302 L1386.2 1289 L1386.5 1272 L1386.9 1254.1 L1387.3 1236.8 L1387.9 1220.6 L1388.6 1205.8 L1389.4 1192.2 L1390.3 1179.7 L1391.3 1168.3 L1392.5 1157.7 L1393.7 1147.8 L1395 1138.6 L1396.5 1130.1 L1398 1122 L1399.7 1114.4 L1401.5 1107.3 L1403.3 1100.5 L1405.3 1094.1 L1407.4 1087.9 L1409.6 1082.1 L1411.9 1076.5 L1414.3 1071.1 L1416.8 1066 L1422.8 1050.1 L1428.8 1034.7 L1434.9 1020 L1440.9 1006.1 L1446.9 992.8 L1452.9 980.5 L1458.9 969 L1464.9 958.4 L1471 948.7 L1477 939.7 L1483 931.1 L1489 922.9 L1495 914.9 L1501 906.9 L1507.1 898.6 L1513.1 890.4 L1519.1 882.4 L1525.1 874.5 L1531.1 866.6 L1537.1 858.7 L1543.2 850.9 L1549.2 843 L1555.2 835 L1561.2 827 L1567.2 819.1 L1573.3 811.1 L1579.3 803.1 L1585.3 795.2 L1591.3 787.2 L1597.3 779.3 L1603.3 771.4 L1609.4 763.6 L1615.4 755.7 L1621.4 747.9 L1627.4 740 L1633.4 732.2 L1639.4 724.5 L1645.5 716.7 L1651.5 708.8 L1657.5 700.9 L1663.5 693.1 L1669.5 685.4 L1675.6 677.8 L1681.6 670.4 L1687.6 663.3 L1693.6 656.3 L1699.6 649.6 L1705.6 642.9 L1711.7 636.4 L1717.7 629.9 L1723.7 623.4 L1729.7 616.8 L1735.7 610.2 L1741.7 603.6 L1747.8 597.1 L1753.8 590.5 L1759.8 584 L1765.8 577.5 L1771.8 571.2 L1777.8 564.8 L1783.9 558.5 L1789.9 552.1 L1795.9 545.9 L1801.9 539.7 L1807.9 533.7 L1814 527.8 L1820 522.2 L1826 516.7 L1832 511.3 L1838 506 L1844 500.9 L1850.1 495.9 L1856.1 491.1 L1862.1 486.3 L1868.1 481.8 L1874.1 477.4 L1880.1 473.1 L1886.2 468.9 L1892.2 464.8 L1898.2 460.8 L1904.2 456.8 L1910.2 452.8 L1916.2 448.9 L1922.3 445 L1928.3 441.2 L1934.3 437.4 L1940.3 433.7 L1946.3 430.1 L1952.4 426.7 L1958.4 423.4 L1964.4 420.1 L1970.4 417 L1976.4 413.9 L1982.4 410.9 L1988.5 408 L1994.5 405 L2000.5 402.1 L2006.5 399.3 L2012.5 396.5 L2018.5 393.8 L2024.6 391.1 L2030.6 388.4 L2036.6 385.7 L2042.6 383.1 L2048.6 380.4 L2054.7 377.8 L2060.7 375.2 L2066.7 372.7 L2072.7 370.2 L2078.7 367.7 L2084.7 365.3 L2090.8 363 L2096.8 360.7 L2102.8 358.5 L2108.8 356.3 L2114.8 354.1 L2120.8 352 L2126.9 350 L2132.9 348 L2138.9 346.1 L2144.9 344.2 L2150.9 342.3 L2156.9 340.5 L2163 338.8 L2169 337.1 L2175 335.4" stroke="#ff00ff" stroke-width="10.6"/>
<use href="#mb" x="391" y="476.3"/>
<use href="#mb" x="435.6" y="503"/>
<use href="#mb" x="480.2" y="529.5"/>
<use href="#mb" x="524.8" y="551.5"/>
<use href="#mb" x="569.4" y="574.5"/>
<use href="#mb" x="614" y="597"/>
<use href="#mb" x="658.6" y="618.3"/>
<use href="#mb" x="703.2" y="639.2"/>
<use href="#mb" x="747.8" y="661"/>
<use href="#mb" x="792.4" y="681"/>
<use href="#mb" x="837" y="699.6"/>
<use href="#mb" x="881.6" y="716.5"/>
<use href="#mb" x="926.2" y="734"/>
<use href="#mb" x="970.8" y="754"/>
<use href="#mb" x="1015.4" y="774"/>
<use href="#mb" x="1060" y="794.5"/>
<use href="#mb" x="1104.6" y="816"/>
<use href="#mb" x="1149.2" y="842"/>
<use href="#mb" x="1193.8" y="870"/>
<use href="#mb" x="1238.4" y="902"/>
<use href="#mb" x="1283" y="950"/>
<use href="#mb" x="1327.6" y="1010"/>
<use href="#mb" x="1372.2" y="1218"/>
<use href="#mb" x="1416.8" y="991.3"/>
<use href="#mb" x="1461.4" y="914.9"/>
<use href="#mb" x="1506" y="859.9"/>
<use href="#mb" x="1550.6" y="803.6"/>
<use href="#mb" x="1595.2" y="748.6"/>
<use href="#mb" x="1639.8" y="691"/>
<use href="#mb" x="1684.4" y="637.7"/>
<use href="#mb" x="1729" y="585.4"/>
<use href="#mb" x="1773.6" y="533.1"/>
<use href="#mb" x="1818.2" y="485.6"/>
<use href="#mb" x="1862.8" y="449.7"/>
<use href="#mb" x="1907.4" y="420"/>
<use href="#mb" x="1952" y="395.8"/>
<use href="#mb" x="1996.6" y="374.5"/>
<use href="#mb" x="2041.2" y="354.2"/>
<use href="#mb" x="2085.8" y="335.4"/>
<use href="#mb" x="2130.4" y="319.3"/>
<use href="#mb" x="2175" y="305.9"/>
<path d="M391 476.3 L397 479.9 L403 483.5 L409.1 487.1 L415.1 490.7 L421.1 494.3 L427.1 497.9 L433.1 501.5 L439.2 505.1 L445.2 508.8 L451.2 512.5 L457.2 516.2 L463.2 519.8 L469.3 523.3 L475.3 526.8 L481.3 530.1 L487.3 533.2 L493.3 536.2 L499.4 539.2 L505.4 542.1 L511.4 544.9 L517.4 547.8 L523.4 550.8 L529.5 553.9 L535.5 556.9 L541.5 560.1 L547.5 563.2 L553.5 566.3 L559.5 569.4 L565.6 572.5 L571.6 575.6 L577.6 578.7 L583.6 581.8 L589.6 584.8 L595.7 587.9 L601.7 590.9 L607.7 593.9 L613.7 596.9 L619.7 599.8 L625.8 602.7 L631.8 605.6 L637.8 608.5 L643.8 611.3 L649.8 614.2 L655.9 617 L661.9 619.8 L667.9 622.7 L673.9 625.5 L679.9 628.3 L686 631.1 L692 633.9 L698 636.7 L704 639.6 L710 642.5 L716.1 645.5 L722.1 648.5 L728.1 651.4 L734.1 654.4 L740.1 657.4 L746.2 660.2 L752.2 663 L758.2 665.8 L764.2 668.6 L770.2 671.3 L776.3 673.9 L782.3 676.6 L788.3 679.2 L794.3 681.8 L800.3 684.4 L806.4 687 L812.4 689.5 L818.4 692 L824.4 694.5 L830.4 697 L836.5 699.4 L842.5 701.7 L848.5 704.1 L854.5 706.3 L860.5 708.6 L866.6 710.8 L872.6 713.1 L878.6 715.3 L884.6 717.7 L890.6 720 L896.6 722.3 L902.7 724.6 L908.7 726.9 L914.7 729.3 L920.7 731.7 L926.7 734.2 L932.8 736.8 L938.8 739.5 L944.8 742.2 L950.8 744.9 L956.8 747.7 L962.9 750.4 L968.9 753.1 L974.9 755.8 L980.9 758.5 L986.9 761.2 L993 763.9 L999 766.6 L1005 769.3 L1011 772 L1017 774.7 L1023.1 777.5 L1029.1 780.2 L1035.1 783 L1041.1 785.7 L1047.1 788.5 L1053.2 791.3 L1059.2 794.1 L1065.2 796.9 L1071.2 799.7 L1077.2 802.5 L1083.3 805.4 L1089.3 808.3 L1095.3 811.2 L1101.3 814.3 L1107.3 817.5 L1113.4 820.8 L1119.4 824.2 L1125.4 827.7 L1131.4 831.3 L1137.4 834.9 L1143.5 838.5 L1149.5 842.2 L1155.5 845.8 L1161.5 849.5 L1167.5 853.2 L1173.6 856.9 L1179.6 860.7 L1185.6 864.6 L1191.6 868.5 L1197.6 872.6 L1203.7 876.5 L1209.7 880.5 L1215.7 884.6 L1221.7 888.9 L1227.7 893.4 L1233.7 898.1 L1239.8 903.2 L1245.8 908.7 L1251.8 914.7 L1257.8 921 L1263.8 927.6 L1269.9 934.5 L1275.9 941.5 L1281.9 948.7 L1287.9 955.7 L1293.9 962.3 L1300 968.9 L1306 975.8 L1312 983.6 L1318 992.5 L1324 1002.9 L1330.1 1015.6 L1336.1 1033.1 L1342.1 1055.3 L1348.1 1081.8 L1354.1 1112 L1360.2 1145.1 L1366.2 1180.6 L1372.2 1218 L1371.8 1223.7 L1371.5 1229.6 L1371.2 1235.7 L1370.9 1242.2 L1370.6 1249 L1370.3 1256.1 L1370 1263.6 L1369.8 1271.5 L1369.5 1279.8 L1369.3 1288.7 L1369.1 1298.2 L1368.9 1308.3 L1368.7 1319.2 L1368.6 1330.9 L1368.4 1343.5 L1368.3 1357.3 L1368.2 1372.3 L1368.1 1388.7 L1368 1406.5 L1367.9 1425.6 L1367.9 1445.3 L1367.8 1464.1 L1367.8 1478.4 L1367.8 1484 L1367.9 1473.7 L1368.1 1447.1 L1368.6 1412.4 L1369.2 1375.8 L1369.9 1340.4 L1370.9 1307.5 L1372 1277.1 L1373.2 1249.3 L1374.7 1223.8 L1376.3 1200.4 L1378.1 1178.7 L1380 1158.6 L1382.2 1139.8 L1384.5 1122.3 L1386.9 1105.8 L1389.6 1090.3 L1392.4 1075.7 L1395.4 1061.8 L1398.5 1048.7 L1401.8 1036.1 L1405.3 1024.2 L1409 1012.7 L1412.8 1001.8 L1416.8 991.3 L1422.8 979.7 L1428.8 968.5 L1434.9 957.6 L1440.9 947.2 L1446.9 937.2 L1452.9 927.6 L1458.9 918.5 L1464.9 909.9 L1471 902 L1477 894.4 L1483 887.2 L1489 880.1 L1495 873.1 L1501 866 L1507.1 858.6 L1513.1 851 L1519.1 843.4 L1525.1 835.8 L1531.1 828.2 L1537.1 820.5 L1543.2 812.9 L1549.2 805.4 L1555.2 797.9 L1561.2 790.5 L1567.2 783.1 L1573.3 775.7 L1579.3 768.4 L1585.3 761 L1591.3 753.5 L1597.3 745.9 L1603.3 738.2 L1609.4 730.4 L1615.4 722.5 L1621.4 714.6 L1627.4 706.8 L1633.4 699 L1639.4 691.4 L1645.5 684 L1651.5 676.7 L1657.5 669.5 L1663.5 662.4 L1669.5 655.2 L1675.6 648.1 L1681.6 641 L1687.6 633.9 L1693.6 626.8 L1699.6 619.8 L1705.6 612.7 L1711.7 605.7 L1717.7 598.7 L1723.7 591.6 L1729.7 584.6 L1735.7 577.5 L1741.7 570.3 L1747.8 563.1 L1753.8 556 L1759.8 548.9 L1765.8 541.9 L1771.8 535.1 L1777.8 528.3 L1783.9 521.6 L1789.9 514.9 L1795.9 508.2 L1801.9 501.8 L1807.9 495.5 L1814 489.6 L1820 484 L1826 478.7 L1832 473.5 L1838 468.6 L1844 463.8 L1850.1 459.2 L1856.1 454.6 L1862.1 450.2 L1868.1 445.9 L1874.1 441.6 L1880.1 437.5 L1886.2 433.4 L1892.2 429.5 L1898.2 425.6 L1904.2 421.9 L1910.2 418.3 L1916.2 414.8 L1922.3 411.5 L1928.3 408.2 L1934.3 404.9 L1940.3 401.8 L1946.3 398.7 L1952.4 395.6 L1958.4 392.6 L1964.4 389.7 L1970.4 386.8 L1976.4 383.9 L1982.4 381.1 L1988.5 378.3 L1994.5 375.5 L2000.5 372.7 L2006.5 369.9 L2012.5 367.1 L2018.5 364.4 L2024.6 361.6 L2030.6 358.9 L2036.6 356.2 L2042.6 353.6 L2048.6 350.9 L2054.7 348.3 L2060.7 345.7 L2066.7 343.2 L2072.7 340.7 L2078.7 338.2 L2084.7 335.8 L2090.8 333.5 L2096.8 331.2 L2102.8 329 L2108.8 326.8 L2114.8 324.6 L2120.8 322.5 L2126.9 320.5 L2132.9 318.5 L2138.9 316.6 L2144.9 314.7 L2150.9 312.8 L2156.9 311 L2163 309.3 L2169 307.6 L2175 305.9" stroke="#0000ff" stroke-width="10.6"/>
<use href="#mr" x="391" y="433.6"/>
<use href="#mr" x="435.6" y="460.6"/>
<use href="#mr" x="480.2" y="487.6"/>
<use href="#mr" x="524.8" y="508.2"/>
<use href="#mr" x="569.4" y="533.7"/>
<use href="#mr" x="614" y="558.3"/>
<use href="#mr" x="658.6" y="579"/>
<use href="#mr" x="703.2" y="601.6"/>
<use href="#mr" x="747.8" y="622.9"/>
<use href="#mr" x="792.4" y="644.3"/>
<use href="#mr" x="837" y="662.9"/>
<use href="#mr" x="881.6" y="683.7"/>
<use href="#mr" x="926.2" y="702.7"/>
<use href="#mr" x="970.8" y="721.9"/>
<use href="#mr" x="1015.4" y="744.7"/>
<use href="#mr" x="1060" y="766.9"/>
<use href="#mr" x="1104.6" y="791"/>
<use href="#mr" x="1149.2" y="814"/>
<use href="#mr" x="1193.8" y="846"/>
<use href="#mr" x="1238.4" y="882"/>
<use href="#mr" x="1283" y="928.5"/>
<use href="#mr" x="1327.6" y="1049.6"/>
<use href="#mr" x="1372.2" y="1027.6"/>
<use href="#mr" x="1416.8" y="921.6"/>
<use href="#mr" x="1461.4" y="862.6"/>
<use href="#mr" x="1506" y="814.3"/>
<use href="#mr" x="1550.6" y="762"/>
<use href="#mr" x="1595.2" y="705.6"/>
<use href="#mr" x="1639.8" y="651.1"/>
<use href="#mr" x="1684.4" y="595.5"/>
<use href="#mr" x="1729" y="547.8"/>
<use href="#mr" x="1773.6" y="503.6"/>
<use href="#mr" x="1818.2" y="453.7"/>
<use href="#mr" x="1862.8" y="420"/>
<use href="#mr" x="1907.4" y="388.5"/>
<use href="#mr" x="1952" y="362.5"/>
<use href="#mr" x="1996.6" y="338"/>
<use href="#mr" x="2041.2" y="317"/>
<use href="#mr" x="2085.8" y="298.5"/>
<use href="#mr" x="2130.4" y="284"/>
<use href="#mr" x="2175" y="270"/>
<path d="M391 433.6 L397 437.2 L403 440.9 L409 444.5 L415 448.1 L421 451.8 L427 455.4 L433 459 L439 462.7 L445 466.4 L451 470.2 L457 474 L463 477.7 L469 481.4 L475.1 484.8 L481.1 488 L487.1 491 L493.1 493.8 L499.1 496.5 L505.1 499.1 L511.1 501.7 L517.1 504.4 L523.1 507.3 L529.1 510.4 L535.1 513.7 L541.1 517.2 L547.1 520.7 L553.1 524.2 L559.1 527.8 L565.1 531.3 L571.1 534.7 L577.1 538.1 L583.1 541.5 L589.1 544.9 L595.1 548.2 L601.1 551.5 L607.1 554.8 L613.1 557.9 L619.1 560.8 L625.1 563.7 L631.2 566.4 L637.2 569.1 L643.2 571.8 L649.2 574.6 L655.2 577.4 L661.2 580.3 L667.2 583.2 L673.2 586.3 L679.2 589.4 L685.2 592.5 L691.2 595.6 L697.2 598.6 L703.2 601.6 L709.2 604.5 L715.2 607.4 L721.2 610.3 L727.2 613.1 L733.2 616 L739.2 618.8 L745.2 621.7 L751.2 624.6 L757.2 627.5 L763.2 630.4 L769.2 633.4 L775.2 636.3 L781.2 639.2 L787.3 642 L793.3 644.7 L799.3 647.3 L805.3 649.8 L811.3 652.2 L817.3 654.7 L823.3 657.1 L829.3 659.6 L835.3 662.1 L841.3 664.8 L847.3 667.6 L853.3 670.4 L859.3 673.3 L865.3 676.1 L871.3 679 L877.3 681.8 L883.3 684.5 L889.3 687.1 L895.3 689.7 L901.3 692.2 L907.3 694.7 L913.3 697.3 L919.3 699.8 L925.3 702.3 L931.3 704.9 L937.3 707.4 L943.4 709.9 L949.4 712.4 L955.4 715 L961.4 717.6 L967.4 720.3 L973.4 723.1 L979.4 726 L985.4 729.1 L991.4 732.2 L997.4 735.3 L1003.4 738.5 L1009.4 741.6 L1015.4 744.7 L1021.4 747.7 L1027.4 750.7 L1033.4 753.6 L1039.4 756.6 L1045.4 759.5 L1051.4 762.5 L1057.4 765.6 L1063.4 768.7 L1069.4 771.9 L1075.4 775.1 L1081.4 778.4 L1087.4 781.7 L1093.4 785 L1099.5 788.3 L1105.5 791.5 L1111.5 794.5 L1117.5 797.5 L1123.5 800.4 L1129.5 803.4 L1135.5 806.4 L1141.5 809.6 L1147.5 813 L1153.5 816.6 L1159.5 820.6 L1165.5 824.8 L1171.5 829.1 L1177.5 833.6 L1183.5 838.1 L1189.5 842.7 L1195.5 847.3 L1201.5 851.9 L1207.5 856.5 L1213.5 861.1 L1219.5 865.9 L1225.5 870.8 L1231.5 875.9 L1237.5 881.2 L1243.5 886.6 L1249.5 891.8 L1255.6 897.1 L1261.6 902.8 L1267.6 908.9 L1273.6 915.7 L1279.6 923.5 L1285.6 932.6 L1291.6 943.9 L1297.6 957.4 L1303.6 972.9 L1309.6 990.1 L1315.6 1008.8 L1321.6 1028.7 L1327.6 1049.6 L1329.1 1055.5 L1330.6 1061.7 L1332 1068.2 L1333.3 1075 L1334.6 1082.1 L1335.8 1089.5 L1336.9 1097.4 L1338 1105.6 L1339 1114.4 L1339.9 1123.7 L1340.8 1133.6 L1341.6 1144.2 L1342.4 1155.6 L1343.1 1167.9 L1343.7 1181.2 L1344.2 1195.6 L1344.7 1211.3 L1345.1 1228.5 L1345.5 1247.2 L1345.8 1267.2 L1346 1287.9 L1346.2 1307.5 L1346.3 1322.6 L1346.3 1328.4 L1346.3 1322.1 L1346.5 1305.9 L1346.7 1284.7 L1347 1262.3 L1347.4 1240.7 L1347.9 1220.6 L1348.5 1202.1 L1349.2 1185.1 L1349.9 1169.6 L1350.8 1155.2 L1351.7 1142 L1352.8 1129.7 L1353.9 1118.3 L1355.1 1107.6 L1356.4 1097.5 L1357.8 1088.1 L1359.3 1079.1 L1360.9 1070.7 L1362.5 1062.6 L1364.3 1055 L1366.1 1047.7 L1368.1 1040.7 L1370.1 1034 L1372.2 1027.6 L1378.2 1010.4 L1384.3 993.9 L1390.3 978.2 L1396.3 963.5 L1402.4 949.7 L1408.4 937.1 L1414.5 925.7 L1420.5 915.5 L1426.5 906.3 L1432.6 897.8 L1438.6 889.9 L1444.6 882.4 L1450.7 875.2 L1456.7 868.1 L1462.7 861 L1468.8 854.1 L1474.8 847.5 L1480.8 841.1 L1486.9 834.8 L1492.9 828.5 L1499 822 L1505 815.4 L1511 808.6 L1517.1 801.7 L1523.1 794.7 L1529.1 787.7 L1535.2 780.5 L1541.2 773.3 L1547.2 766.1 L1553.3 758.7 L1559.3 751.2 L1565.4 743.6 L1571.4 735.9 L1577.4 728.1 L1583.5 720.4 L1589.5 712.7 L1595.5 705.2 L1601.6 697.7 L1607.6 690.3 L1613.6 683 L1619.7 675.7 L1625.7 668.3 L1631.8 661 L1637.8 653.6 L1643.8 646.1 L1649.9 638.5 L1655.9 630.8 L1661.9 623.1 L1668 615.4 L1674 607.9 L1680 600.6 L1686.1 593.6 L1692.1 586.8 L1698.1 580.1 L1704.2 573.6 L1710.2 567.3 L1716.3 561 L1722.3 554.7 L1728.3 548.5 L1734.4 542.4 L1740.4 536.4 L1746.4 530.5 L1752.5 524.7 L1758.5 518.8 L1764.5 512.9 L1770.6 506.7 L1776.6 500.4 L1782.7 493.5 L1788.7 486.4 L1794.7 479.2 L1800.8 472.1 L1806.8 465.2 L1812.8 458.8 L1818.9 453.1 L1824.9 447.9 L1830.9 443.1 L1837 438.5 L1843 434.1 L1849.1 429.8 L1855.1 425.5 L1861.1 421.2 L1867.2 416.8 L1873.2 412.4 L1879.2 408 L1885.3 403.6 L1891.3 399.3 L1897.3 395.2 L1903.4 391.1 L1909.4 387.2 L1915.4 383.5 L1921.5 379.9 L1927.5 376.3 L1933.6 372.9 L1939.6 369.5 L1945.6 366.1 L1951.7 362.7 L1957.7 359.3 L1963.7 355.9 L1969.8 352.5 L1975.8 349.1 L1981.8 345.8 L1987.9 342.5 L1993.9 339.4 L2000 336.3 L2006 333.3 L2012 330.4 L2018.1 327.5 L2024.1 324.7 L2030.1 321.9 L2036.2 319.2 L2042.2 316.6 L2048.2 313.9 L2054.3 311.3 L2060.3 308.7 L2066.4 306.1 L2072.4 303.7 L2078.4 301.3 L2084.5 299 L2090.5 296.8 L2096.5 294.8 L2102.6 292.8 L2108.6 290.8 L2114.6 288.9 L2120.7 287.1 L2126.7 285.2 L2132.7 283.3 L2138.8 281.3 L2144.8 279.4 L2150.9 277.5 L2156.9 275.6 L2162.9 273.7 L2169 271.9 L2175 270" stroke="#ff0000" stroke-width="10.6"/>
<use href="#mg" x="391" y="418.6"/>
<use href="#mg" x="435.6" y="445.6"/>
<use href="#mg" x="480.2" y="472.1"/>
<use href="#mg" x="524.8" y="492.2"/>
<use href="#mg" x="569.4" y="517.2"/>
<use href="#mg" x="614" y="541.3"/>
<use href="#mg" x="658.6" y="561.5"/>
<use href="#mg" x="703.2" y="583.6"/>
<use href="#mg" x="747.8" y="604.9"/>
<use href="#mg" x="792.4" y="625.8"/>
<use href="#mg" x="837" y="643.9"/>
<use href="#mg" x="881.6" y="664.7"/>
<use href="#mg" x="926.2" y="683.7"/>
<use href="#mg" x="970.8" y="702.9"/>
<use href="#mg" x="1015.4" y="725.7"/>
<use href="#mg" x="1060" y="747.9"/>
<use href="#mg" x="1104.6" y="772"/>
<use href="#mg" x="1149.2" y="799"/>
<use href="#mg" x="1193.8" y="832.5"/>
<use href="#mg" x="1238.4" y="877"/>
<use href="#mg" x="1283" y="958"/>
<use href="#mg" x="1327.6" y="1128.5"/>
<use href="#mg" x="1372.2" y="928.3"/>
<use href="#mg" x="1416.8" y="861.2"/>
<use href="#mg" x="1461.4" y="814.3"/>
<use href="#mg" x="1506" y="770"/>
<use href="#mg" x="1550.6" y="720.4"/>
<use href="#mg" x="1595.2" y="668.1"/>
<use href="#mg" x="1639.8" y="616.2"/>
<use href="#mg" x="1684.4" y="563.9"/>
<use href="#mg" x="1729" y="517"/>
<use href="#mg" x="1773.6" y="474"/>
<use href="#mg" x="1818.2" y="434.3"/>
<use href="#mg" x="1862.8" y="401.5"/>
<use href="#mg" x="1907.4" y="373.2"/>
<use href="#mg" x="1952" y="345.5"/>
<use href="#mg" x="1996.6" y="322"/>
<use href="#mg" x="2041.2" y="300.5"/>
<use href="#mg" x="2085.8" y="281.7"/>
<use href="#mg" x="2130.4" y="267"/>
<use href="#mg" x="2175" y="252.2"/>
<path d="M391 418.6 L397 422.3 L403.1 425.9 L409.1 429.6 L415.1 433.3 L421.1 436.9 L427.2 440.5 L433.2 444.2 L439.2 447.8 L445.2 451.5 L451.3 455.2 L457.3 459 L463.3 462.6 L469.4 466.2 L475.4 469.6 L481.4 472.7 L487.4 475.6 L493.5 478.3 L499.5 480.9 L505.5 483.5 L511.5 486.1 L517.6 488.8 L523.6 491.6 L529.6 494.7 L535.6 497.9 L541.7 501.3 L547.7 504.8 L553.7 508.3 L559.8 511.8 L565.8 515.2 L571.8 518.5 L577.8 521.9 L583.9 525.2 L589.9 528.6 L595.9 531.9 L601.9 535.1 L608 538.3 L614 541.3 L620 544.2 L626.1 547 L632.1 549.7 L638.1 552.3 L644.1 554.9 L650.2 557.6 L656.2 560.4 L662.2 563.2 L668.2 566.2 L674.3 569.2 L680.3 572.2 L686.3 575.2 L692.4 578.2 L698.4 581.2 L704.4 584.2 L710.4 587.1 L716.5 590 L722.5 592.9 L728.5 595.8 L734.5 598.6 L740.6 601.5 L746.6 604.3 L752.6 607.2 L758.6 610.1 L764.7 613 L770.7 615.8 L776.7 618.7 L782.8 621.5 L788.8 624.2 L794.8 626.8 L800.8 629.3 L806.9 631.8 L812.9 634.1 L818.9 636.5 L824.9 638.9 L831 641.3 L837 643.9 L843 646.6 L849.1 649.4 L855.1 652.2 L861.1 655.1 L867.1 658 L873.2 660.8 L879.2 663.6 L885.2 666.3 L891.2 668.9 L897.3 671.5 L903.3 674 L909.3 676.6 L915.4 679.1 L921.4 681.6 L927.4 684.2 L933.4 686.8 L939.5 689.3 L945.5 691.8 L951.5 694.4 L957.5 696.9 L963.6 699.6 L969.6 702.3 L975.6 705.2 L981.6 708.2 L987.7 711.3 L993.7 714.4 L999.7 717.6 L1005.8 720.7 L1011.8 723.9 L1017.8 726.9 L1023.8 729.9 L1029.9 732.9 L1035.9 735.8 L1041.9 738.8 L1047.9 741.8 L1054 744.8 L1060 747.9 L1066 751 L1072.1 754.2 L1078.1 757.4 L1084.1 760.6 L1090.1 763.9 L1096.2 767.2 L1102.2 770.6 L1108.2 774.1 L1114.2 777.5 L1120.3 781 L1126.3 784.6 L1132.3 788.2 L1138.4 792 L1144.4 795.8 L1150.4 799.8 L1156.4 803.9 L1162.5 808.1 L1168.5 812.5 L1174.5 817 L1180.5 821.6 L1186.6 826.5 L1192.6 831.5 L1198.6 836.6 L1204.6 841.9 L1210.7 847.3 L1216.7 852.9 L1222.7 858.9 L1228.8 865.4 L1234.8 872.5 L1240.8 880.2 L1246.8 888.9 L1252.9 898.5 L1258.9 909 L1264.9 920.2 L1270.9 932.2 L1277 944.8 L1283 958 L1286 963.8 L1288.8 969.8 L1291.5 976.1 L1294.1 982.7 L1296.5 989.6 L1298.9 996.9 L1301.1 1004.5 L1303.2 1012.6 L1305.1 1021.1 L1306.9 1030.2 L1308.6 1039.8 L1310.2 1050.2 L1311.7 1061.3 L1313 1073.2 L1314.2 1086.1 L1315.3 1100.2 L1316.2 1115.5 L1317 1132.2 L1317.7 1150.4 L1318.3 1169.9 L1318.7 1190 L1319 1209.2 L1319.2 1223.8 L1319.3 1229.5 L1319.3 1227.4 L1319.4 1221.9 L1319.4 1214.8 L1319.5 1207.3 L1319.7 1200.1 L1319.8 1193.3 L1320 1187.1 L1320.2 1181.4 L1320.5 1176.2 L1320.7 1171.4 L1321 1166.9 L1321.4 1162.8 L1321.7 1158.9 L1322.1 1155.3 L1322.5 1152 L1323 1148.8 L1323.5 1145.8 L1324 1143 L1324.5 1140.3 L1325.1 1137.7 L1325.7 1135.2 L1326.3 1132.9 L1326.9 1130.7 L1327.6 1128.5 L1333.6 1093.2 L1339.6 1059.7 L1345.6 1028.3 L1351.6 999.6 L1357.6 974.1 L1363.7 952.2 L1369.7 934.4 L1375.7 920.8 L1381.7 909.2 L1387.7 899.1 L1393.7 890.2 L1399.7 882.1 L1405.7 874.6 L1411.7 867.4 L1417.7 860 L1423.8 852.9 L1429.8 846.3 L1435.8 839.9 L1441.8 833.8 L1447.8 827.9 L1453.8 821.9 L1459.8 815.9 L1465.8 809.8 L1471.8 803.9 L1477.8 798 L1483.9 792.2 L1489.9 786.3 L1495.9 780.3 L1501.9 774.3 L1507.9 768 L1513.9 761.6 L1519.9 755 L1525.9 748.4 L1531.9 741.6 L1537.9 734.8 L1544 728 L1550 721.1 L1556 714.2 L1562 707.2 L1568 700.2 L1574 693.1 L1580 686 L1586 678.9 L1592 671.8 L1598 664.8 L1604.1 657.8 L1610.1 650.8 L1616.1 643.8 L1622.1 636.8 L1628.1 629.8 L1634.1 622.8 L1640.1 615.8 L1646.1 608.8 L1652.1 601.6 L1658.1 594.4 L1664.2 587.3 L1670.2 580.2 L1676.2 573.2 L1682.2 566.4 L1688.2 559.7 L1694.2 553.2 L1700.2 546.7 L1706.2 540.4 L1712.2 534.1 L1718.2 527.9 L1724.3 521.8 L1730.3 515.7 L1736.3 509.7 L1742.3 503.8 L1748.3 498 L1754.3 492.2 L1760.3 486.4 L1766.3 480.8 L1772.3 475.2 L1778.3 469.6 L1784.4 464 L1790.4 458.5 L1796.4 453.1 L1802.4 447.7 L1808.4 442.5 L1814.4 437.4 L1820.4 432.5 L1826.4 427.8 L1832.4 423.2 L1838.4 418.7 L1844.5 414.3 L1850.5 410 L1856.5 405.8 L1862.5 401.7 L1868.5 397.7 L1874.5 393.8 L1880.5 389.9 L1886.5 386.2 L1892.5 382.4 L1898.5 378.7 L1904.6 375 L1910.6 371.2 L1916.6 367.4 L1922.6 363.6 L1928.6 359.7 L1934.6 355.9 L1940.6 352.2 L1946.6 348.6 L1952.6 345.1 L1958.6 341.8 L1964.7 338.5 L1970.7 335.3 L1976.7 332.1 L1982.7 329 L1988.7 326 L1994.7 323 L2000.7 319.9 L2006.7 316.9 L2012.7 314 L2018.7 311 L2024.8 308.1 L2030.8 305.3 L2036.8 302.5 L2042.8 299.8 L2048.8 297.1 L2054.8 294.4 L2060.8 291.8 L2066.8 289.2 L2072.8 286.8 L2078.8 284.4 L2084.9 282.1 L2090.9 279.9 L2096.9 277.8 L2102.9 275.8 L2108.9 273.9 L2114.9 272 L2120.9 270.1 L2126.9 268.1 L2132.9 266.2 L2138.9 264.2 L2145 262.2 L2151 260.2 L2157 258.2 L2163 256.2 L2169 254.2 L2175 252.2" stroke="#00ff00" stroke-width="10.6"/>
</g></g>
<rect x="1714.6" y="1001.8" width="459" height="494.4" fill="#000"/>
<rect x="1694.6" y="981.8" width="459" height="494.4" fill="#fff" stroke="#2a2a2a" stroke-width="2.8"/>
<line x1="1705.6" y1="1033.5" x2="1862.1" y2="1033.5" stroke="#000000" stroke-width="10" stroke-linecap="round"/><use href="#mk" x="1783.6" y="1033.5"/>
<text class="sb sl" transform="translate(1883.1 1057) scale(1 0.98)" font-size="69.8">Blank</text>
<use href="#mg" x="1783.6" y="1132"/><line x1="1705.6" y1="1132" x2="1862.1" y2="1132" stroke="#00ff00" stroke-width="12" stroke-linecap="round"/>
<text class="sb sl" transform="translate(1883.1 1155.7) scale(1 1.03)" font-size="69.8">1<tspan font-size="43.5" dx="0.5">x</tspan><tspan dx="1.5">10</tspan><tspan font-size="44" dy="-31.5">-4</tspan><tspan dy="31.5" dx="0.5"> M</tspan></text>
<use href="#mr" x="1783.6" y="1230.5"/><line x1="1705.6" y1="1230.5" x2="1862.1" y2="1230.5" stroke="#ff0000" stroke-width="12" stroke-linecap="round"/>
<text class="sb sl" transform="translate(1883.1 1254.4) scale(1 1.03)" font-size="69.8">5<tspan font-size="43.5" dx="0.5">x</tspan><tspan dx="1.5">10</tspan><tspan font-size="44" dy="-31.5">-4</tspan><tspan dy="31.5" dx="0.5"> M</tspan></text>
<use href="#mb" x="1783.6" y="1329"/><line x1="1705.6" y1="1329" x2="1862.1" y2="1329" stroke="#0000ff" stroke-width="12" stroke-linecap="round"/>
<text class="sb sl" transform="translate(1883.1 1353.1) scale(1 1.03)" font-size="69.8">1<tspan font-size="43.5" dx="0.5">x</tspan><tspan dx="1.5">10</tspan><tspan font-size="44" dy="-31.5">-3</tspan><tspan dy="31.5" dx="0.5"> M</tspan></text>
<use href="#mm" x="1783.6" y="1427.5"/><line x1="1705.6" y1="1427.5" x2="1862.1" y2="1427.5" stroke="#ff00ff" stroke-width="12" stroke-linecap="round"/>
<text class="sb sl" transform="translate(1883.1 1451.8) scale(1 1.03)" font-size="69.8">5<tspan font-size="43.5" dx="0.5">x</tspan><tspan dx="1.5">10</tspan><tspan font-size="44" dy="-31.5">-3</tspan><tspan dy="31.5" dx="0.5"> M</tspan></text>
<text class="sb" transform="translate(341 214.3) scale(1 1.02)" font-size="74" text-anchor="end">100</text>
<text class="sb" transform="translate(341 433.3) scale(1 1.02)" font-size="74" text-anchor="end">10</text>
<text class="sb" transform="translate(341 652.3) scale(1 1.02)" font-size="74" text-anchor="end">1</text>
<text class="sb" transform="translate(341 871.2) scale(1 1.02)" font-size="74" text-anchor="end">0.1</text>
<text class="sb" transform="translate(341 1090.2) scale(1 1.02)" font-size="74" text-anchor="end">0.01</text>
<text class="sb" transform="translate(341 1309.2) scale(1 1.02)" font-size="74" text-anchor="end">0.001</text>
<text class="sb" transform="translate(391 1604.5) scale(1 1.02)" font-size="74.3" text-anchor="middle">-800</text>
<text class="sb" transform="translate(688.5 1604.5) scale(1 1.02)" font-size="74.3" text-anchor="middle">-700</text>
<text class="sb" transform="translate(985.9 1604.5) scale(1 1.02)" font-size="74.3" text-anchor="middle">-600</text>
<text class="sb" transform="translate(1283.3 1604.5) scale(1 1.02)" font-size="74.3" text-anchor="middle">-500</text>
<text class="sb" transform="translate(1580.8 1604.5) scale(1 1.02)" font-size="74.3" text-anchor="middle">-400</text>
<text class="sb" transform="translate(1878.2 1604.5) scale(1 1.02)" font-size="74.3" text-anchor="middle">-300</text>
<text class="sb" transform="translate(2175.7 1604.5) scale(1 1.02)" font-size="74.3" text-anchor="middle">-200</text>
<text class="tb" x="1331.5" y="1737.6" font-size="80.7" text-anchor="middle">E( mV/SCE)</text>
<text class="tb" transform="translate(111 710) rotate(-90)" font-size="89.6" text-anchor="middle"><tspan font-style="italic">i</tspan>(mA/cm<tspan font-size="59" dy="-36">2</tspan><tspan dy="36">)</tspan></text>
<text class="sb" x="1299.5" y="168.8" font-size="111" text-anchor="middle" style="stroke-width:1px">(b)</text>
</g>
</svg>
</body></html>
